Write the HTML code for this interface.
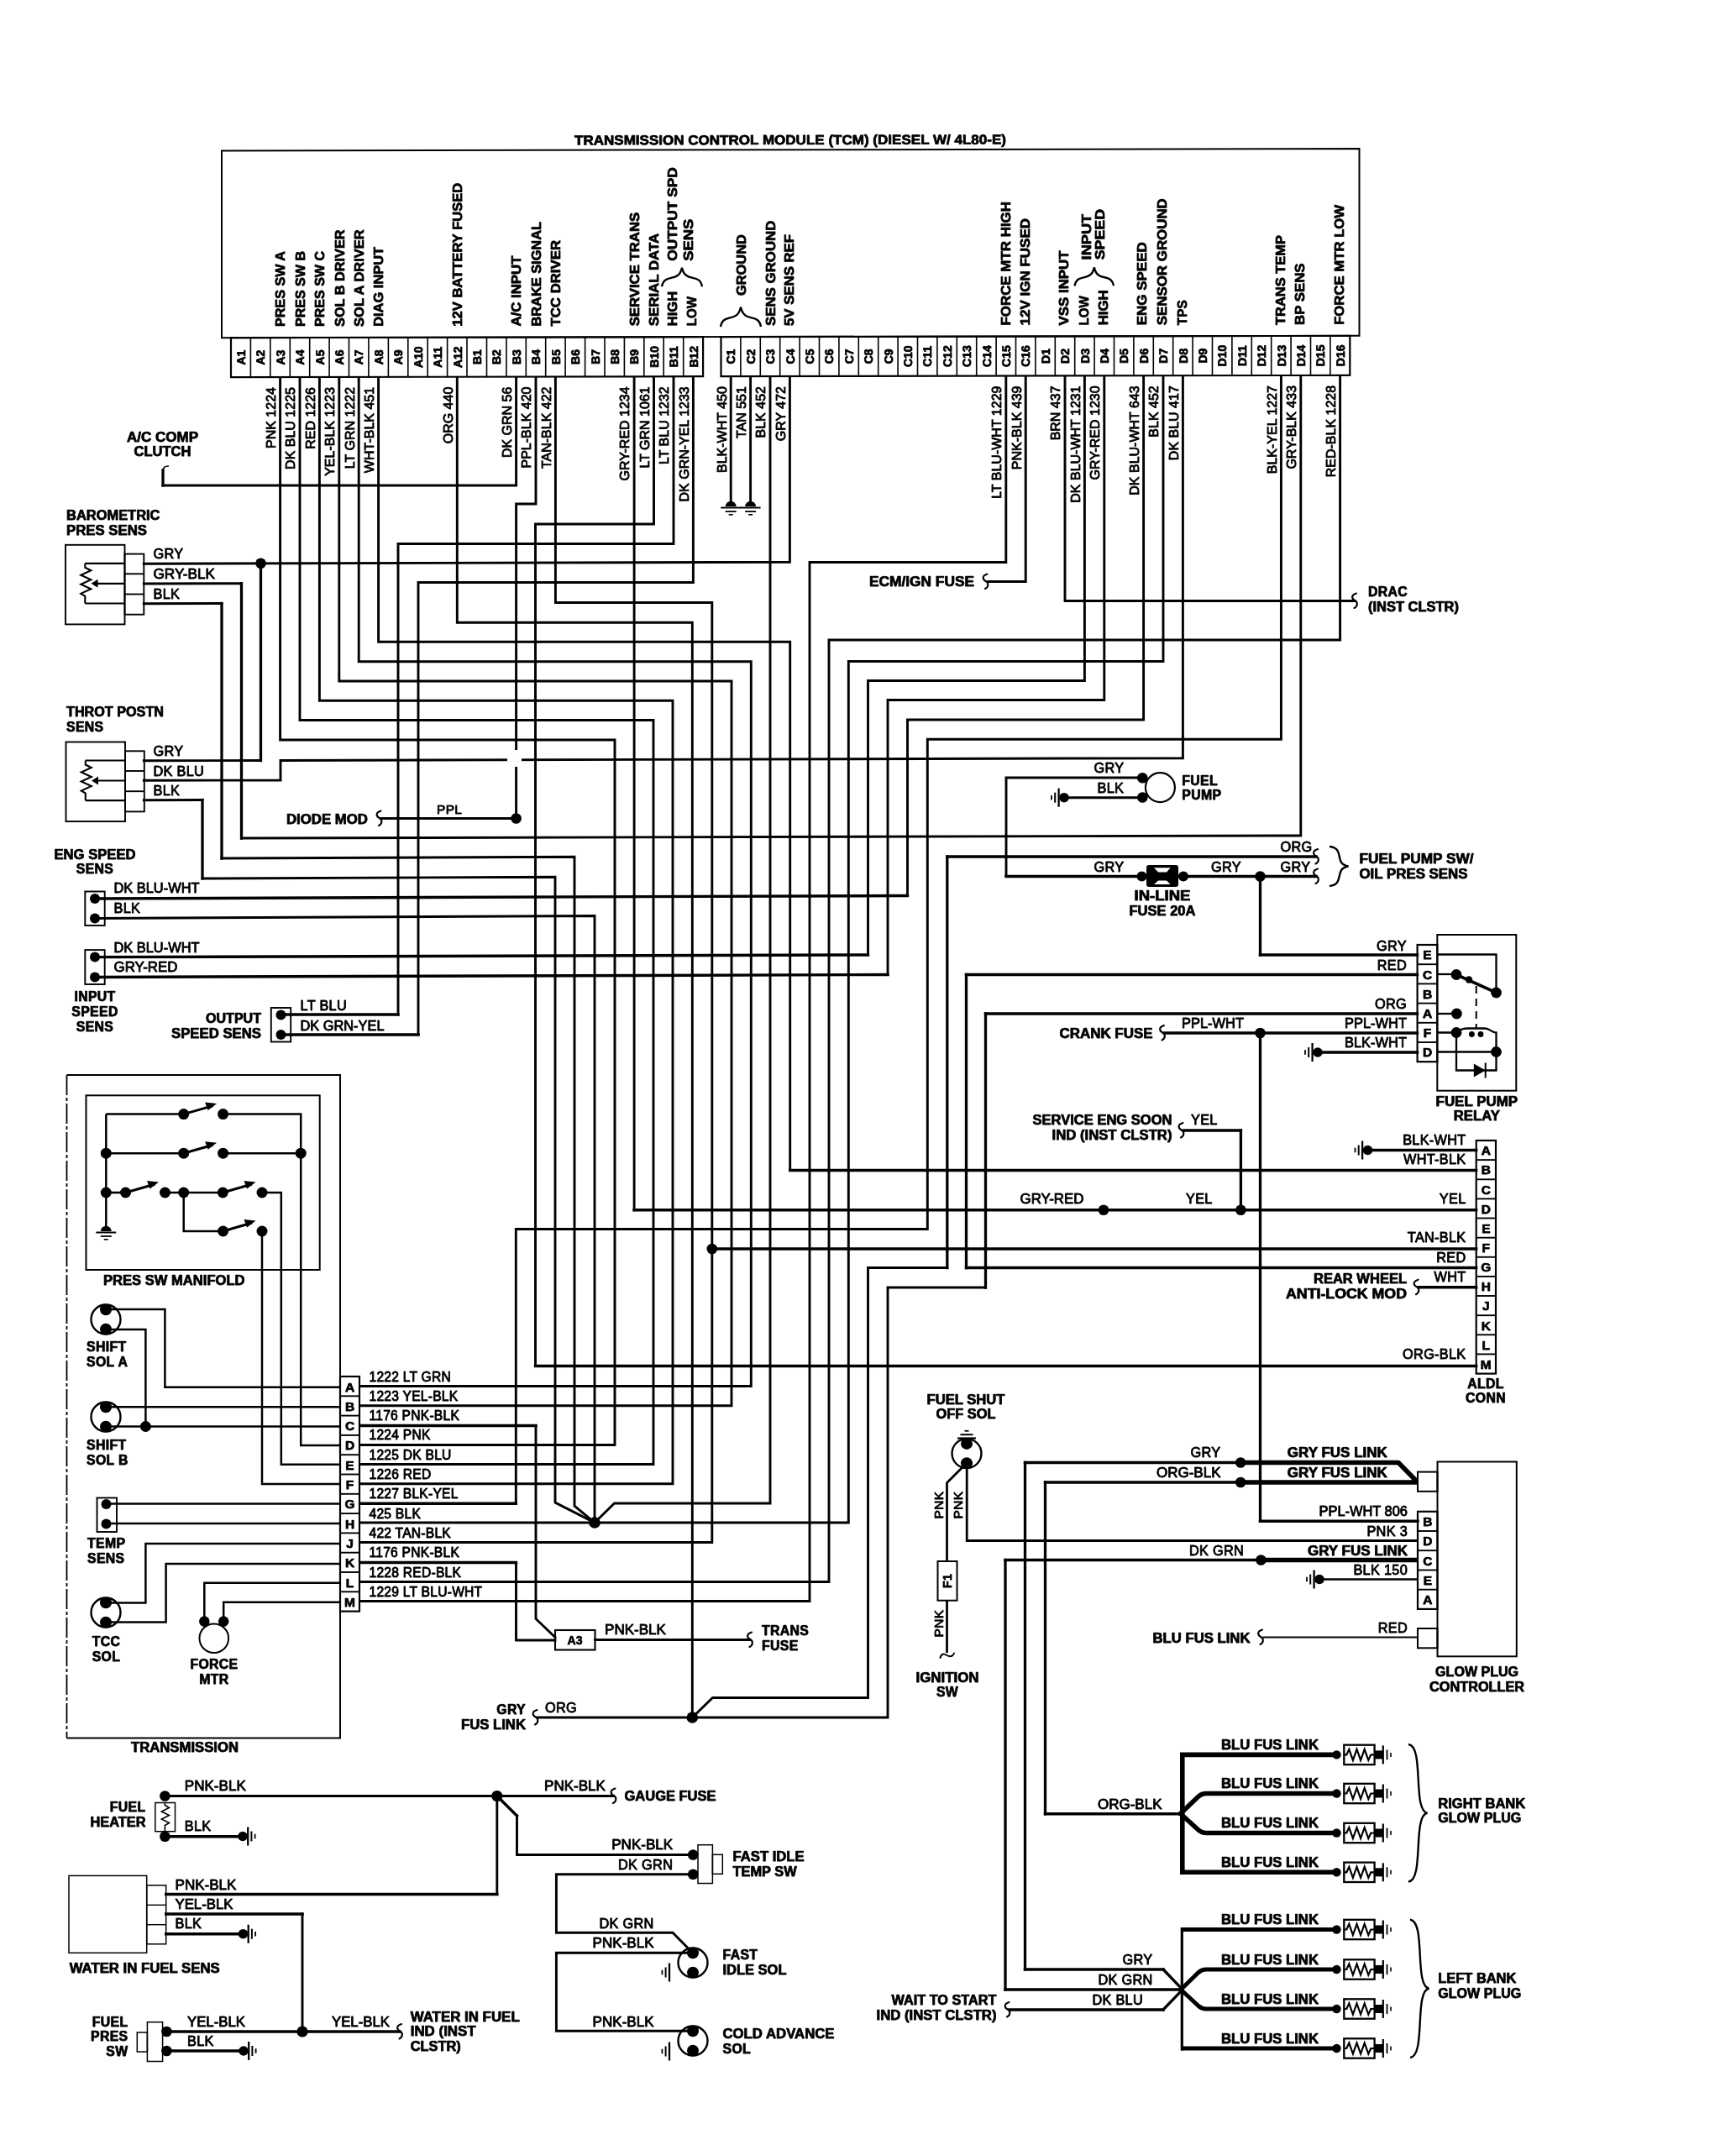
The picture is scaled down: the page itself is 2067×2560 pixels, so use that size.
<!DOCTYPE html>
<html><head><meta charset="utf-8"><title>TCM wiring diagram</title>
<style>html,body{margin:0;padding:0;background:#fff}svg{display:block;will-change:transform}text{font-family:"Liberation Sans",sans-serif;fill:#000;stroke:#000;stroke-width:0.85px;stroke-linejoin:round}text[font-weight=bold]{stroke-width:0.75px}</style>
</head><body>
<svg width="2067" height="2560" viewBox="0 0 2067 2560" fill="none" stroke="#000" stroke-linecap="butt" stroke-linejoin="miter">
<rect x="0" y="0" width="2067" height="2560" fill="#fff" stroke="none"/>
<g transform="translate(0 1.65) skewY(-0.1)">
<rect x="264.0" y="178.3" width="1354.5" height="222.7" stroke-width="2.00" fill="none"/>
<text x="684.0" y="172.0" font-size="16.0" font-weight="bold" textLength="514.0" lengthAdjust="spacingAndGlyphs">TRANSMISSION CONTROL MODULE (TCM) (DIESEL W/ 4L80-E)</text>
<rect x="275.0" y="401.0" width="562.1" height="47.0" stroke-width="2.20" fill="none"/>
<path d="M298.4 401.0 L298.4 448.0" stroke-width="1.60" />
<path d="M321.8 401.0 L321.8 448.0" stroke-width="1.60" />
<path d="M345.3 401.0 L345.3 448.0" stroke-width="1.60" />
<path d="M368.7 401.0 L368.7 448.0" stroke-width="1.60" />
<path d="M392.1 401.0 L392.1 448.0" stroke-width="1.60" />
<path d="M415.5 401.0 L415.5 448.0" stroke-width="1.60" />
<path d="M438.9 401.0 L438.9 448.0" stroke-width="1.60" />
<path d="M462.4 401.0 L462.4 448.0" stroke-width="1.60" />
<path d="M485.8 401.0 L485.8 448.0" stroke-width="1.60" />
<path d="M509.2 401.0 L509.2 448.0" stroke-width="1.60" />
<path d="M532.6 401.0 L532.6 448.0" stroke-width="1.60" />
<path d="M556.0 401.0 L556.0 448.0" stroke-width="1.60" />
<path d="M579.5 401.0 L579.5 448.0" stroke-width="1.60" />
<path d="M602.9 401.0 L602.9 448.0" stroke-width="1.60" />
<path d="M626.3 401.0 L626.3 448.0" stroke-width="1.60" />
<path d="M649.7 401.0 L649.7 448.0" stroke-width="1.60" />
<path d="M673.1 401.0 L673.1 448.0" stroke-width="1.60" />
<path d="M696.6 401.0 L696.6 448.0" stroke-width="1.60" />
<path d="M720.0 401.0 L720.0 448.0" stroke-width="1.60" />
<path d="M743.4 401.0 L743.4 448.0" stroke-width="1.60" />
<path d="M766.8 401.0 L766.8 448.0" stroke-width="1.60" />
<path d="M790.2 401.0 L790.2 448.0" stroke-width="1.60" />
<path d="M813.7 401.0 L813.7 448.0" stroke-width="1.60" />
<rect x="858.5" y="401.0" width="748.8" height="47.0" stroke-width="2.20" fill="none"/>
<path d="M881.9 401.0 L881.9 448.0" stroke-width="1.60" />
<path d="M905.3 401.0 L905.3 448.0" stroke-width="1.60" />
<path d="M928.7 401.0 L928.7 448.0" stroke-width="1.60" />
<path d="M952.1 401.0 L952.1 448.0" stroke-width="1.60" />
<path d="M975.5 401.0 L975.5 448.0" stroke-width="1.60" />
<path d="M998.9 401.0 L998.9 448.0" stroke-width="1.60" />
<path d="M1022.3 401.0 L1022.3 448.0" stroke-width="1.60" />
<path d="M1045.7 401.0 L1045.7 448.0" stroke-width="1.60" />
<path d="M1069.1 401.0 L1069.1 448.0" stroke-width="1.60" />
<path d="M1092.5 401.0 L1092.5 448.0" stroke-width="1.60" />
<path d="M1115.9 401.0 L1115.9 448.0" stroke-width="1.60" />
<path d="M1139.3 401.0 L1139.3 448.0" stroke-width="1.60" />
<path d="M1162.7 401.0 L1162.7 448.0" stroke-width="1.60" />
<path d="M1186.1 401.0 L1186.1 448.0" stroke-width="1.60" />
<path d="M1209.5 401.0 L1209.5 448.0" stroke-width="1.60" />
<path d="M1232.9 401.0 L1232.9 448.0" stroke-width="1.60" />
<path d="M1256.3 401.0 L1256.3 448.0" stroke-width="1.60" />
<path d="M1279.7 401.0 L1279.7 448.0" stroke-width="1.60" />
<path d="M1303.1 401.0 L1303.1 448.0" stroke-width="1.60" />
<path d="M1326.5 401.0 L1326.5 448.0" stroke-width="1.60" />
<path d="M1349.9 401.0 L1349.9 448.0" stroke-width="1.60" />
<path d="M1373.3 401.0 L1373.3 448.0" stroke-width="1.60" />
<path d="M1396.7 401.0 L1396.7 448.0" stroke-width="1.60" />
<path d="M1420.1 401.0 L1420.1 448.0" stroke-width="1.60" />
<path d="M1443.5 401.0 L1443.5 448.0" stroke-width="1.60" />
<path d="M1466.9 401.0 L1466.9 448.0" stroke-width="1.60" />
<path d="M1490.3 401.0 L1490.3 448.0" stroke-width="1.60" />
<path d="M1513.7 401.0 L1513.7 448.0" stroke-width="1.60" />
<path d="M1537.1 401.0 L1537.1 448.0" stroke-width="1.60" />
<path d="M1560.5 401.0 L1560.5 448.0" stroke-width="1.60" />
<path d="M1583.9 401.0 L1583.9 448.0" stroke-width="1.60" />
<text font-size="14.0" text-anchor="middle" font-weight="bold" transform="translate(291.9 424.5) rotate(-90)">A1</text>
<text font-size="14.0" text-anchor="middle" font-weight="bold" transform="translate(315.3 424.5) rotate(-90)">A2</text>
<text font-size="14.0" text-anchor="middle" font-weight="bold" transform="translate(338.8 424.5) rotate(-90)">A3</text>
<text font-size="14.0" text-anchor="middle" font-weight="bold" transform="translate(362.2 424.5) rotate(-90)">A4</text>
<text font-size="14.0" text-anchor="middle" font-weight="bold" transform="translate(385.6 424.5) rotate(-90)">A5</text>
<text font-size="14.0" text-anchor="middle" font-weight="bold" transform="translate(409.0 424.5) rotate(-90)">A6</text>
<text font-size="14.0" text-anchor="middle" font-weight="bold" transform="translate(432.4 424.5) rotate(-90)">A7</text>
<text font-size="14.0" text-anchor="middle" font-weight="bold" transform="translate(455.8 424.5) rotate(-90)">A8</text>
<text font-size="14.0" text-anchor="middle" font-weight="bold" transform="translate(479.3 424.5) rotate(-90)">A9</text>
<text font-size="14.0" text-anchor="middle" font-weight="bold" transform="translate(502.7 424.5) rotate(-90)">A10</text>
<text font-size="14.0" text-anchor="middle" font-weight="bold" transform="translate(526.1 424.5) rotate(-90)">A11</text>
<text font-size="14.0" text-anchor="middle" font-weight="bold" transform="translate(549.5 424.5) rotate(-90)">A12</text>
<text font-size="14.0" text-anchor="middle" font-weight="bold" transform="translate(573.0 424.5) rotate(-90)">B1</text>
<text font-size="14.0" text-anchor="middle" font-weight="bold" transform="translate(596.4 424.5) rotate(-90)">B2</text>
<text font-size="14.0" text-anchor="middle" font-weight="bold" transform="translate(619.8 424.5) rotate(-90)">B3</text>
<text font-size="14.0" text-anchor="middle" font-weight="bold" transform="translate(643.2 424.5) rotate(-90)">B4</text>
<text font-size="14.0" text-anchor="middle" font-weight="bold" transform="translate(666.6 424.5) rotate(-90)">B5</text>
<text font-size="14.0" text-anchor="middle" font-weight="bold" transform="translate(690.1 424.5) rotate(-90)">B6</text>
<text font-size="14.0" text-anchor="middle" font-weight="bold" transform="translate(713.5 424.5) rotate(-90)">B7</text>
<text font-size="14.0" text-anchor="middle" font-weight="bold" transform="translate(736.9 424.5) rotate(-90)">B8</text>
<text font-size="14.0" text-anchor="middle" font-weight="bold" transform="translate(760.3 424.5) rotate(-90)">B9</text>
<text font-size="14.0" text-anchor="middle" font-weight="bold" transform="translate(783.7 424.5) rotate(-90)">B10</text>
<text font-size="14.0" text-anchor="middle" font-weight="bold" transform="translate(807.2 424.5) rotate(-90)">B11</text>
<text font-size="14.0" text-anchor="middle" font-weight="bold" transform="translate(830.6 424.5) rotate(-90)">B12</text>
<text font-size="14.0" text-anchor="middle" font-weight="bold" transform="translate(875.4 424.5) rotate(-90)">C1</text>
<text font-size="14.0" text-anchor="middle" font-weight="bold" transform="translate(898.8 424.5) rotate(-90)">C2</text>
<text font-size="14.0" text-anchor="middle" font-weight="bold" transform="translate(922.2 424.5) rotate(-90)">C3</text>
<text font-size="14.0" text-anchor="middle" font-weight="bold" transform="translate(945.6 424.5) rotate(-90)">C4</text>
<text font-size="14.0" text-anchor="middle" font-weight="bold" transform="translate(969.0 424.5) rotate(-90)">C5</text>
<text font-size="14.0" text-anchor="middle" font-weight="bold" transform="translate(992.4 424.5) rotate(-90)">C6</text>
<text font-size="14.0" text-anchor="middle" font-weight="bold" transform="translate(1015.8 424.5) rotate(-90)">C7</text>
<text font-size="14.0" text-anchor="middle" font-weight="bold" transform="translate(1039.2 424.5) rotate(-90)">C8</text>
<text font-size="14.0" text-anchor="middle" font-weight="bold" transform="translate(1062.6 424.5) rotate(-90)">C9</text>
<text font-size="14.0" text-anchor="middle" font-weight="bold" transform="translate(1086.0 424.5) rotate(-90)">C10</text>
<text font-size="14.0" text-anchor="middle" font-weight="bold" transform="translate(1109.4 424.5) rotate(-90)">C11</text>
<text font-size="14.0" text-anchor="middle" font-weight="bold" transform="translate(1132.8 424.5) rotate(-90)">C12</text>
<text font-size="14.0" text-anchor="middle" font-weight="bold" transform="translate(1156.2 424.5) rotate(-90)">C13</text>
<text font-size="14.0" text-anchor="middle" font-weight="bold" transform="translate(1179.6 424.5) rotate(-90)">C14</text>
<text font-size="14.0" text-anchor="middle" font-weight="bold" transform="translate(1203.0 424.5) rotate(-90)">C15</text>
<text font-size="14.0" text-anchor="middle" font-weight="bold" transform="translate(1226.4 424.5) rotate(-90)">C16</text>
<text font-size="14.0" text-anchor="middle" font-weight="bold" transform="translate(1249.8 424.5) rotate(-90)">D1</text>
<text font-size="14.0" text-anchor="middle" font-weight="bold" transform="translate(1273.2 424.5) rotate(-90)">D2</text>
<text font-size="14.0" text-anchor="middle" font-weight="bold" transform="translate(1296.6 424.5) rotate(-90)">D3</text>
<text font-size="14.0" text-anchor="middle" font-weight="bold" transform="translate(1320.0 424.5) rotate(-90)">D4</text>
<text font-size="14.0" text-anchor="middle" font-weight="bold" transform="translate(1343.4 424.5) rotate(-90)">D5</text>
<text font-size="14.0" text-anchor="middle" font-weight="bold" transform="translate(1366.8 424.5) rotate(-90)">D6</text>
<text font-size="14.0" text-anchor="middle" font-weight="bold" transform="translate(1390.2 424.5) rotate(-90)">D7</text>
<text font-size="14.0" text-anchor="middle" font-weight="bold" transform="translate(1413.6 424.5) rotate(-90)">D8</text>
<text font-size="14.0" text-anchor="middle" font-weight="bold" transform="translate(1437.0 424.5) rotate(-90)">D9</text>
<text font-size="14.0" text-anchor="middle" font-weight="bold" transform="translate(1460.4 424.5) rotate(-90)">D10</text>
<text font-size="14.0" text-anchor="middle" font-weight="bold" transform="translate(1483.8 424.5) rotate(-90)">D11</text>
<text font-size="14.0" text-anchor="middle" font-weight="bold" transform="translate(1507.2 424.5) rotate(-90)">D12</text>
<text font-size="14.0" text-anchor="middle" font-weight="bold" transform="translate(1530.6 424.5) rotate(-90)">D13</text>
<text font-size="14.0" text-anchor="middle" font-weight="bold" transform="translate(1554.0 424.5) rotate(-90)">D14</text>
<text font-size="14.0" text-anchor="middle" font-weight="bold" transform="translate(1577.4 424.5) rotate(-90)">D15</text>
<text font-size="14.0" text-anchor="middle" font-weight="bold" transform="translate(1600.8 424.5) rotate(-90)">D16</text>
<text font-size="16.0" font-weight="bold" textLength="90.0" lengthAdjust="spacingAndGlyphs" transform="translate(339.4 388.0) rotate(-90)">PRES SW A</text>
<text font-size="16.0" font-weight="bold" textLength="90.0" lengthAdjust="spacingAndGlyphs" transform="translate(362.8 388.0) rotate(-90)">PRES SW B</text>
<text font-size="16.0" font-weight="bold" textLength="90.0" lengthAdjust="spacingAndGlyphs" transform="translate(386.2 388.0) rotate(-90)">PRES SW C</text>
<text font-size="16.0" font-weight="bold" textLength="115.5" lengthAdjust="spacingAndGlyphs" transform="translate(409.6 388.0) rotate(-90)">SOL B DRIVER</text>
<text font-size="16.0" font-weight="bold" textLength="115.5" lengthAdjust="spacingAndGlyphs" transform="translate(433.0 388.0) rotate(-90)">SOL A DRIVER</text>
<text font-size="16.0" font-weight="bold" textLength="95.0" lengthAdjust="spacingAndGlyphs" transform="translate(456.4 388.0) rotate(-90)">DIAG INPUT</text>
<text font-size="16.0" font-weight="bold" textLength="171.0" lengthAdjust="spacingAndGlyphs" transform="translate(550.1 388.0) rotate(-90)">12V BATTERY FUSED</text>
<text font-size="16.0" font-weight="bold" textLength="84.0" lengthAdjust="spacingAndGlyphs" transform="translate(620.4 388.0) rotate(-90)">A/C INPUT</text>
<text font-size="16.0" font-weight="bold" textLength="124.5" lengthAdjust="spacingAndGlyphs" transform="translate(643.8 388.0) rotate(-90)">BRAKE SIGNAL</text>
<text font-size="16.0" font-weight="bold" textLength="102.5" lengthAdjust="spacingAndGlyphs" transform="translate(667.2 388.0) rotate(-90)">TCC DRIVER</text>
<text font-size="16.0" font-weight="bold" textLength="135.5" lengthAdjust="spacingAndGlyphs" transform="translate(760.9 388.0) rotate(-90)">SERVICE TRANS</text>
<text font-size="16.0" font-weight="bold" textLength="110.5" lengthAdjust="spacingAndGlyphs" transform="translate(784.3 388.0) rotate(-90)">SERIAL DATA</text>
<text font-size="16.0" font-weight="bold" textLength="41.5" lengthAdjust="spacingAndGlyphs" transform="translate(805.8 388.0) rotate(-90)">HIGH</text>
<text font-size="16.0" font-weight="bold" textLength="35.0" lengthAdjust="spacingAndGlyphs" transform="translate(829.2 388.0) rotate(-90)">LOW</text>
<text font-size="16.0" font-weight="bold" textLength="111.5" lengthAdjust="spacingAndGlyphs" transform="translate(805.6 310.5) rotate(-90)">OUTPUT SPD</text>
<text font-size="16.0" font-weight="bold" textLength="50.0" lengthAdjust="spacingAndGlyphs" transform="translate(825.0 310.5) rotate(-90)">SENS</text>
<path d="M788.0 341.0 C791.0 324.1 808.0 337.6 812.0 318.5 C816.0 337.6 833.0 324.1 836.0 341.0" stroke-width="2.40"/>
<path d="M858.0 389.0 C861.0 371.4 878.0 385.5 882.0 365.5 C886.0 385.5 903.0 371.4 906.0 389.0" stroke-width="2.40"/>
<text font-size="16.0" font-weight="bold" textLength="73.0" lengthAdjust="spacingAndGlyphs" transform="translate(887.6 352.0) rotate(-90)">GROUND</text>
<text font-size="16.0" font-weight="bold" textLength="125.5" lengthAdjust="spacingAndGlyphs" transform="translate(922.8 388.0) rotate(-90)">SENS GROUND</text>
<text font-size="16.0" font-weight="bold" textLength="109.0" lengthAdjust="spacingAndGlyphs" transform="translate(945.2 388.0) rotate(-90)">5V SENS REF</text>
<text font-size="16.0" font-weight="bold" textLength="147.5" lengthAdjust="spacingAndGlyphs" transform="translate(1202.6 388.0) rotate(-90)">FORCE MTR HIGH</text>
<text font-size="16.0" font-weight="bold" textLength="127.5" lengthAdjust="spacingAndGlyphs" transform="translate(1226.0 388.0) rotate(-90)">12V IGN FUSED</text>
<text font-size="16.0" font-weight="bold" textLength="89.0" lengthAdjust="spacingAndGlyphs" transform="translate(1272.3 388.0) rotate(-90)">VSS INPUT</text>
<text font-size="16.0" font-weight="bold" textLength="35.0" lengthAdjust="spacingAndGlyphs" transform="translate(1295.7 388.0) rotate(-90)">LOW</text>
<text font-size="16.0" font-weight="bold" textLength="42.0" lengthAdjust="spacingAndGlyphs" transform="translate(1319.1 388.0) rotate(-90)">HIGH</text>
<path d="M1279.5 341.0 C1282.5 324.5 1298.8 337.7 1302.8 319.0 C1306.8 337.7 1323.0 324.5 1326.0 341.0" stroke-width="2.40"/>
<text font-size="16.0" font-weight="bold" textLength="54.5" lengthAdjust="spacingAndGlyphs" transform="translate(1298.5 310.0) rotate(-90)">INPUT</text>
<text font-size="16.0" font-weight="bold" textLength="60.5" lengthAdjust="spacingAndGlyphs" transform="translate(1315.3 310.0) rotate(-90)">SPEED</text>
<text font-size="16.0" font-weight="bold" textLength="99.0" lengthAdjust="spacingAndGlyphs" transform="translate(1365.4 388.0) rotate(-90)">ENG SPEED</text>
<text font-size="16.0" font-weight="bold" textLength="151.0" lengthAdjust="spacingAndGlyphs" transform="translate(1389.3 388.0) rotate(-90)">SENSOR GROUND</text>
<text font-size="16.0" font-weight="bold" textLength="30.0" lengthAdjust="spacingAndGlyphs" transform="translate(1413.2 388.0) rotate(-90)">TPS</text>
<text font-size="16.0" font-weight="bold" textLength="107.0" lengthAdjust="spacingAndGlyphs" transform="translate(1529.7 388.0) rotate(-90)">TRANS TEMP</text>
<text font-size="16.0" font-weight="bold" textLength="73.5" lengthAdjust="spacingAndGlyphs" transform="translate(1553.1 388.0) rotate(-90)">BP SENS</text>
<text font-size="16.0" font-weight="bold" textLength="143.0" lengthAdjust="spacingAndGlyphs" transform="translate(1599.9 388.0) rotate(-90)">FORCE MTR LOW</text>
<text font-size="16.0" text-anchor="end" transform="translate(327.9 460.0) rotate(-90)">PNK 1224</text>
<text font-size="16.0" text-anchor="end" transform="translate(351.3 460.0) rotate(-90)">DK BLU 1225</text>
<text font-size="16.0" text-anchor="end" transform="translate(374.7 460.0) rotate(-90)">RED 1226</text>
<text font-size="16.0" text-anchor="end" transform="translate(398.1 460.0) rotate(-90)">YEL-BLK 1223</text>
<text font-size="16.0" text-anchor="end" transform="translate(421.5 460.0) rotate(-90)">LT GRN 1222</text>
<text font-size="16.0" text-anchor="end" transform="translate(444.9 460.0) rotate(-90)">WHT-BLK 451</text>
<text font-size="16.0" text-anchor="end" transform="translate(538.6 460.0) rotate(-90)">ORG 440</text>
<text font-size="16.0" text-anchor="end" transform="translate(608.9 460.0) rotate(-90)">DK GRN 56</text>
<text font-size="16.0" text-anchor="end" transform="translate(632.3 460.0) rotate(-90)">PPL-BLK 420</text>
<text font-size="16.0" text-anchor="end" transform="translate(655.7 460.0) rotate(-90)">TAN-BLK 422</text>
<text font-size="16.0" text-anchor="end" transform="translate(749.4 460.0) rotate(-90)">GRY-RED 1234</text>
<text font-size="16.0" text-anchor="end" transform="translate(772.8 460.0) rotate(-90)">LT GRN 1061</text>
<text font-size="16.0" text-anchor="end" transform="translate(796.2 460.0) rotate(-90)">LT BLU 1232</text>
<text font-size="16.0" text-anchor="end" transform="translate(819.7 460.0) rotate(-90)">DK GRN-YEL 1233</text>
<text font-size="16.0" text-anchor="end" transform="translate(864.5 460.0) rotate(-90)">BLK-WHT 450</text>
<text font-size="16.0" text-anchor="end" transform="translate(887.9 460.0) rotate(-90)">TAN 551</text>
<text font-size="16.0" text-anchor="end" transform="translate(911.3 460.0) rotate(-90)">BLK 452</text>
<text font-size="16.0" text-anchor="end" transform="translate(934.7 460.0) rotate(-90)">GRY 472</text>
<text font-size="16.0" text-anchor="end" transform="translate(1192.1 460.0) rotate(-90)">LT BLU-WHT 1229</text>
<text font-size="16.0" text-anchor="end" transform="translate(1215.5 460.0) rotate(-90)">PNK-BLK 439</text>
<text font-size="16.0" text-anchor="end" transform="translate(1262.3 460.0) rotate(-90)">BRN 437</text>
<text font-size="16.0" text-anchor="end" transform="translate(1285.7 460.0) rotate(-90)">DK BLU-WHT 1231</text>
<text font-size="16.0" text-anchor="end" transform="translate(1309.1 460.0) rotate(-90)">GRY-RED 1230</text>
<text font-size="16.0" text-anchor="end" transform="translate(1355.9 460.0) rotate(-90)">DK BLU-WHT 643</text>
<text font-size="16.0" text-anchor="end" transform="translate(1379.3 460.0) rotate(-90)">BLK 452</text>
<text font-size="16.0" text-anchor="end" transform="translate(1402.7 460.0) rotate(-90)">DK BLU 417</text>
<text font-size="16.0" text-anchor="end" transform="translate(1519.7 460.0) rotate(-90)">BLK-YEL 1227</text>
<text font-size="16.0" text-anchor="end" transform="translate(1543.1 460.0) rotate(-90)">GRY-BLK 433</text>
<text font-size="16.0" text-anchor="end" transform="translate(1589.9 460.0) rotate(-90)">RED-BLK 1228</text>
</g>
<path d="M333.6 450.3 L333.6 881.0 L732.0 881.0 L732.0 1720.5 L428.0 1720.5" stroke-width="2.90" stroke-linecap="square" />
<path d="M357.0 450.2 L357.0 857.5 L778.0 857.5 L778.0 1743.5 L428.0 1743.5" stroke-width="2.90" stroke-linecap="square" />
<path d="M380.4 450.2 L380.4 834.3 L801.0 834.3 L801.0 1766.8 L428.0 1766.8" stroke-width="2.90" stroke-linecap="square" />
<path d="M403.8 450.1 L403.8 811.0 L871.0 811.0 L871.0 1673.7 L428.0 1673.7" stroke-width="2.90" stroke-linecap="square" />
<path d="M427.2 450.1 L427.2 787.8 L894.3 787.8 L894.3 1650.5 L428.0 1650.5" stroke-width="2.90" stroke-linecap="square" />
<path d="M450.6 450.1 L450.6 764.3 L940.7 764.3 L940.7 1393.5" stroke-width="2.90" stroke-linecap="square" />
<path d="M940.7 1393.5 L1757.7 1393.5" stroke-width="3.40" stroke-linecap="square" />
<path d="M544.3 449.9 L544.3 741.3 L824.3 741.3 L824.3 2045.0" stroke-width="2.90" stroke-linecap="square" />
<path d="M614.6 449.8 L614.6 578.0 L194.0 578.0" stroke-width="2.90" stroke-linecap="square" />
<path d="M194.0 578.0 L194.0 560.0" stroke-width="3.30" stroke-linecap="square" />
<path d="M194 561 c0 -4 2 -6.5 7 -6" stroke-width="1.6"/>
<text x="193.5" y="525.5" font-size="15.8" text-anchor="middle" font-weight="bold" textLength="85.0" lengthAdjust="spacingAndGlyphs">A/C COMP</text>
<text x="193.5" y="543.0" font-size="15.8" text-anchor="middle" font-weight="bold" textLength="68.0" lengthAdjust="spacingAndGlyphs">CLUTCH</text>
<path d="M638.0 449.7 L638.0 600.0 L614.6 600.0 L614.6 974.5" stroke-width="2.90" stroke-linecap="square" />
<path d="M454.0 974.5 L614.6 974.5" stroke-width="2.90" stroke-linecap="square" />
<circle cx="614.6" cy="974.5" r="6.3" fill="#000" stroke="none"/>
<path d="M453.5 965.5 C447.0 967.5 447.5 972.0 452.0 974.2 C455.5 976.0 455.0 981.0 451.0 983.0" stroke-width="2.10" stroke-linecap="round"/>
<path d="M661.4 449.7 L661.4 717.5 L847.8 717.5 L847.8 1836.5 L428.0 1836.5" stroke-width="2.90" stroke-linecap="square" />
<circle cx="847.8" cy="1487.0" r="6.3" fill="#000" stroke="none"/>
<path d="M847.8 1487.0 L1757.7 1487.0" stroke-width="3.40" stroke-linecap="square" />
<path d="M755.1 449.5 L755.1 1440.7" stroke-width="2.90" stroke-linecap="square" />
<path d="M755.1 1440.7 L1757.7 1440.7" stroke-width="3.40" stroke-linecap="square" />
<circle cx="1314.0" cy="1440.7" r="6.3" fill="#000" stroke="none"/>
<circle cx="1477.4" cy="1440.7" r="6.3" fill="#000" stroke="none"/>
<path d="M778.5 449.5 L778.5 624.0 L637.5 624.0 L637.5 1626.5" stroke-width="2.90" stroke-linecap="square" />
<path d="M637.5 1626.5 L1757.7 1626.5" stroke-width="3.40" stroke-linecap="square" />
<path d="M802.0 449.5 L802.0 647.5 L474.0 647.5 L474.0 1208.0" stroke-width="2.90" stroke-linecap="square" />
<path d="M474.0 1208.0 L334.0 1208.0" stroke-width="3.40" stroke-linecap="square" />
<path d="M825.4 449.4 L825.4 693.5 L498.0 693.5 L498.0 1232.0" stroke-width="2.90" stroke-linecap="square" />
<path d="M498.0 1232.0 L334.0 1232.0" stroke-width="3.40" stroke-linecap="square" />
<path d="M870.2 449.3 L870.2 600.0" stroke-width="2.90" stroke-linecap="square" />
<path d="M863.9 603.0 a6.3 6.3 0 0 1 12.6 0 z" fill="#000" stroke="none"/>
<path d="M858.2 604.5 L882.2 604.5" stroke-width="2.00" />
<path d="M863.7 609.0 L876.7 609.0" stroke-width="1.80" />
<path d="M867.7 612.8 L872.7 612.8" stroke-width="1.60" />
<path d="M893.6 449.3 L893.6 600.0" stroke-width="2.90" stroke-linecap="square" />
<path d="M887.3 603.0 a6.3 6.3 0 0 1 12.6 0 z" fill="#000" stroke="none"/>
<path d="M881.6 604.5 L905.6 604.5" stroke-width="2.00" />
<path d="M887.1 609.0 L900.1 609.0" stroke-width="1.80" />
<path d="M891.1 612.8 L896.1 612.8" stroke-width="1.60" />
<path d="M917.0 449.2 L917.0 1790.0 L731.5 1790.0 L708.0 1813.0" stroke-width="2.90" stroke-linecap="square" />
<path d="M940.4 449.2 L940.4 669.3 L171.3 671.2" stroke-width="2.90" stroke-linecap="square" />
<circle cx="310.5" cy="670.8" r="6.3" fill="#000" stroke="none"/>
<path d="M310.5 670.8 L310.5 905.5" stroke-width="3.30" stroke-linecap="square" />
<path d="M310.5 905.5 L171.3 905.8" stroke-width="2.90" stroke-linecap="square" />
<path d="M1197.8 448.8 L1197.8 669.5 L964.0 669.5 L964.0 1906.5 L428.0 1906.5" stroke-width="2.90" stroke-linecap="square" />
<path d="M1221.2 448.7 L1221.2 692.5 L1176.0 692.5" stroke-width="2.90" stroke-linecap="square" />
<path d="M1175.5 683.5 C1169.0 685.5 1169.5 690.0 1174.0 692.2 C1177.5 694.0 1177.0 699.0 1173.0 701.0" stroke-width="2.10" stroke-linecap="round"/>
<path d="M1268.0 448.6 L1268.0 715.5 L1613.0 715.5" stroke-width="2.90" stroke-linecap="square" />
<path d="M1615.0 706.5 C1608.5 708.5 1609.0 713.0 1613.5 715.2 C1617.0 717.0 1616.5 722.0 1612.5 724.0" stroke-width="2.10" stroke-linecap="round"/>
<path d="M1291.4 448.6 L1291.4 810.5 L1033.5 810.5 L1033.5 1137.0" stroke-width="2.90" stroke-linecap="square" />
<path d="M1033.5 1137.0 L113.0 1139.6" stroke-width="3.40" stroke-linecap="square" />
<path d="M1314.8 448.6 L1314.8 833.5 L1057.0 833.5 L1057.0 1160.5" stroke-width="2.90" stroke-linecap="square" />
<path d="M1057.0 1160.5 L113.0 1163.5" stroke-width="3.40" stroke-linecap="square" />
<path d="M1361.6 448.5 L1361.6 857.0 L1080.5 857.0 L1080.5 1066.5" stroke-width="2.90" stroke-linecap="square" />
<path d="M1080.5 1066.5 L113.0 1070.0" stroke-width="3.40" stroke-linecap="square" />
<path d="M1385.0 448.4 L1385.0 787.5 L1010.3 787.5 L1010.3 1813.0 L428.0 1813.0" stroke-width="2.90" stroke-linecap="square" />
<path d="M1408.4 448.4 L1408.4 902.7 L334.0 905.5 L334.0 929.0 L171.3 929.3" stroke-width="2.90" stroke-linecap="square" />
<path d="M1525.4 448.2 L1525.4 880.3 L1104.3 880.3 L1104.3 1463.5 L614.3 1463.5 L614.3 1790.3" stroke-width="2.90" stroke-linecap="square" />
<path d="M614.3 1790.3 L428.0 1790.3" stroke-width="3.40" stroke-linecap="square" />
<path d="M1548.8 448.1 L1548.8 995.0 L287.5 998.0" stroke-width="2.90" stroke-linecap="square" />
<path d="M287.5 998.0 L287.5 694.7" stroke-width="3.30" stroke-linecap="square" />
<path d="M287.5 694.7 L171.3 695.0" stroke-width="2.90" stroke-linecap="square" />
<path d="M1595.6 448.1 L1595.6 762.0 L987.0 762.0 L987.0 1883.5 L428.0 1883.5" stroke-width="2.90" stroke-linecap="square" />
<path d="M171.3 718.7 L264.0 718.5" stroke-width="2.90" stroke-linecap="square" />
<path d="M264.0 718.5 L264.0 1022.0" stroke-width="3.30" stroke-linecap="square" />
<path d="M264.0 1022.0 L684.0 1020.3 L684.0 1793.0 L708.0 1813.0" stroke-width="2.90" stroke-linecap="square" />
<path d="M171.3 952.7 L241.0 952.5" stroke-width="2.90" stroke-linecap="square" />
<path d="M241.0 952.5 L241.0 1046.0" stroke-width="3.30" stroke-linecap="square" />
<path d="M241.0 1046.0 L661.0 1044.3 L661.0 1789.0 L708.0 1813.0" stroke-width="2.90" stroke-linecap="square" />
<path d="M113.0 1093.5 L708.0 1090.5 L708.0 1813.0" stroke-width="2.90" stroke-linecap="square" />
<circle cx="708.0" cy="1813.0" r="6.8" fill="#000" stroke="none"/>
<path d="M604 904.8 H621 M614.6 893 V913" stroke="#fff" stroke-width="4"/>
<path d="M1567.0 1020.0 L1127.8 1020.0" stroke-width="3.40" stroke-linecap="square" />
<path d="M1127.8 1020.0 L1127.8 1509.5" stroke-width="3.30" stroke-linecap="square" />
<path d="M1127.8 1509.5 L1033.5 1509.5 L1033.5 2021.5 L848.5 2021.5 L824.3 2045.0" stroke-width="2.90" stroke-linecap="square" />
<path d="M1569.0 1011.0 C1562.5 1013.0 1563.0 1017.5 1567.5 1019.7 C1571.0 1021.5 1570.5 1026.5 1566.5 1028.5" stroke-width="2.10" stroke-linecap="round"/>
<path d="M1687.5 1207.0 L1173.5 1207.0" stroke-width="3.40" stroke-linecap="square" />
<path d="M1173.5 1207.0 L1173.5 1533.0" stroke-width="3.30" stroke-linecap="square" />
<path d="M1173.5 1533.0 L1057.0 1533.0 L1057.0 2045.0 L640.0 2045.0" stroke-width="2.90" stroke-linecap="square" />
<path d="M639.5 2036.0 C633.0 2038.0 633.5 2042.5 638.0 2044.7 C641.5 2046.5 641.0 2051.5 637.0 2053.5" stroke-width="2.10" stroke-linecap="round"/>
<circle cx="824.3" cy="2045.0" r="6.8" fill="#000" stroke="none"/>
<path d="M1687.5 1160.5 L1150.5 1160.5" stroke-width="3.40" stroke-linecap="square" />
<path d="M1150.5 1160.5 L1150.5 1509.5" stroke-width="3.30" stroke-linecap="square" />
<path d="M1150.5 1509.5 L1757.7 1509.5" stroke-width="3.40" stroke-linecap="square" />
<path d="M1360.0 926.0 L1198.0 926.0 L1198.0 1043.5" stroke-width="2.90" stroke-linecap="square" />
<path d="M1198.0 1043.5 L1567.0 1043.5" stroke-width="3.40" stroke-linecap="square" />
<path d="M1569.0 1034.5 C1562.5 1036.5 1563.0 1041.0 1567.5 1043.2 C1571.0 1045.0 1570.5 1050.0 1566.5 1052.0" stroke-width="2.10" stroke-linecap="round"/>
<path d="M1269.0 949.7 L1360.0 949.7" stroke-width="2.90" stroke-linecap="square" />
<circle cx="1267.0" cy="949.7" r="5.8" fill="#000" stroke="none"/>
<path d="M1260.6 938.7 L1260.6 960.7" stroke-width="2.30" />
<path d="M1256.2 943.7 L1256.2 955.7" stroke-width="2.00" />
<path d="M1252.0 946.9 L1252.0 952.5" stroke-width="1.80" />
<circle cx="1381.4" cy="937.7" r="17.5" fill="none" stroke-width="2.20"/>
<circle cx="1360.3" cy="926.3" r="6.3" fill="#000" stroke="none"/>
<circle cx="1360.3" cy="949.5" r="6.3" fill="#000" stroke="none"/>
<circle cx="1500.5" cy="1043.5" r="6.3" fill="#000" stroke="none"/>
<path d="M1500.5 1043.5 L1500.5 1137.0" stroke-width="3.30" stroke-linecap="square" />
<path d="M1500.5 1137.0 L1687.5 1137.0" stroke-width="3.40" stroke-linecap="square" />
<circle cx="1359.5" cy="1043.5" r="6.0" fill="#000" stroke="none"/>
<circle cx="1409.0" cy="1043.5" r="6.0" fill="#000" stroke="none"/>
<rect x="1365" y="1030" width="38" height="26" rx="3" fill="#000" stroke="none"/>
<path d="M1374 1033.3 H1393.6 L1389 1038.6 H1379.2 z M1374 1053 H1393.6 L1389 1048.4 H1379.2 z" fill="#fff" stroke="none"/>
<path d="M1386.5 1230.0 L1687.5 1230.0" stroke-width="3.40" stroke-linecap="square" />
<path d="M1386.0 1221.0 C1379.5 1223.0 1380.0 1227.5 1384.5 1229.7 C1388.0 1231.5 1387.5 1236.5 1383.5 1238.5" stroke-width="2.10" stroke-linecap="round"/>
<circle cx="1500.5" cy="1230.0" r="6.3" fill="#000" stroke="none"/>
<path d="M1500.5 1230.0 L1500.5 1811.3" stroke-width="3.30" stroke-linecap="square" />
<path d="M1500.5 1811.3 L1688.0 1811.3" stroke-width="3.40" stroke-linecap="square" />
<path d="M1571.0 1253.0 L1687.5 1253.0" stroke-width="3.40" stroke-linecap="square" />
<circle cx="1569.0" cy="1253.0" r="5.8" fill="#000" stroke="none"/>
<path d="M1562.6 1242.0 L1562.6 1264.0" stroke-width="2.30" />
<path d="M1558.2 1247.0 L1558.2 1259.0" stroke-width="2.00" />
<path d="M1554.0 1250.2 L1554.0 1255.8" stroke-width="1.80" />
<path d="M1409.0 1346.0 L1477.4 1346.0" stroke-width="3.40" stroke-linecap="square" />
<path d="M1477.4 1346.0 L1477.4 1440.7" stroke-width="3.30" stroke-linecap="square" />
<path d="M1408.5 1337.0 C1402.0 1339.0 1402.5 1343.5 1407.0 1345.7 C1410.5 1347.5 1410.0 1352.5 1406.0 1354.5" stroke-width="2.10" stroke-linecap="round"/>
<path d="M1630.5 1369.5 L1757.7 1369.5" stroke-width="3.40" stroke-linecap="square" />
<circle cx="1628.5" cy="1369.5" r="5.8" fill="#000" stroke="none"/>
<path d="M1622.1 1358.5 L1622.1 1380.5" stroke-width="2.30" />
<path d="M1617.7 1363.5 L1617.7 1375.5" stroke-width="2.00" />
<path d="M1613.5 1366.7 L1613.5 1372.3" stroke-width="1.80" />
<path d="M1689.0 1532.7 L1757.7 1532.7" stroke-width="3.40" stroke-linecap="square" />
<path d="M1688.5 1523.7 C1682.0 1525.7 1682.5 1530.2 1687.0 1532.4 C1690.5 1534.2 1690.0 1539.2 1686.0 1541.2" stroke-width="2.10" stroke-linecap="round"/>
<path d="M428.0 1697.5 L638.0 1697.5" stroke-width="3.40" stroke-linecap="square" />
<path d="M638.0 1697.5 L638.0 1927.5 L661.0 1949.5" stroke-width="2.90" stroke-linecap="square" />
<path d="M428.0 1860.5 L614.5 1860.5" stroke-width="3.40" stroke-linecap="square" />
<path d="M614.5 1860.5 L614.5 1953.0 L661.0 1953.0" stroke-width="2.90" stroke-linecap="square" />
<rect x="661.0" y="1941.0" width="47.5" height="23.5" stroke-width="2.10" fill="none"/>
<text x="684.7" y="1958.3" font-size="14.0" text-anchor="middle" font-weight="bold" letter-spacing="0.35">A3</text>
<path d="M708.5 1952.5 L893.0 1952.5" stroke-width="2.90" stroke-linecap="square" />
<path d="M895.0 1943.5 C888.5 1945.5 889.0 1950.0 893.5 1952.2 C897.0 1954.0 896.5 1959.0 892.5 1961.0" stroke-width="2.10" stroke-linecap="round"/>
<rect x="78.0" y="648.8" width="70.5" height="94.6" stroke-width="1.90" fill="none"/>
<rect x="148.5" y="659.6" width="22.8" height="72.1" stroke-width="1.90" fill="none"/>
<path d="M148.5 683.3 L171.3 683.3" stroke-width="1.90" />
<path d="M148.5 707.5 L171.3 707.5" stroke-width="1.90" />
<path d="M101.3 670.8 L148.5 670.8" stroke-width="2.20" />
<path d="M116.0 694.8 L148.5 694.8" stroke-width="2.20" />
<path d="M101.3 718.5 L148.5 718.5" stroke-width="2.20" />
<path d="M101.3 670.8 V675.8 l7 3.5 l-12 5.5 l12 5.5 l-12 5.5 l12 5.5 l-12 5.5 l5 3 V718.5" stroke-width="2.1" stroke-linejoin="miter"/>
<path d="M108.5 694.8 l8 -5 v10 z" fill="#000" stroke="none"/>
<rect x="78.5" y="883.5" width="70.5" height="94.6" stroke-width="1.90" fill="none"/>
<rect x="149.0" y="894.3" width="22.8" height="72.1" stroke-width="1.90" fill="none"/>
<path d="M149.0 918.0 L171.8 918.0" stroke-width="1.90" />
<path d="M149.0 942.2 L171.8 942.2" stroke-width="1.90" />
<path d="M101.8 905.5 L149.0 905.5" stroke-width="2.20" />
<path d="M116.5 929.5 L149.0 929.5" stroke-width="2.20" />
<path d="M101.8 953.2 L149.0 953.2" stroke-width="2.20" />
<path d="M101.8 905.5 V910.5 l7 3.5 l-12 5.5 l12 5.5 l-12 5.5 l12 5.5 l-12 5.5 l5 3 V953.2" stroke-width="2.1" stroke-linejoin="miter"/>
<path d="M109.0 929.5 l8 -5 v10 z" fill="#000" stroke="none"/>
<text x="79.0" y="619.0" font-size="15.8" font-weight="bold" textLength="111.5" lengthAdjust="spacingAndGlyphs">BAROMETRIC</text>
<text x="79.0" y="636.5" font-size="15.8" font-weight="bold" textLength="96.0" lengthAdjust="spacingAndGlyphs">PRES SENS</text>
<text x="182.5" y="665.3" font-size="16.3" letter-spacing="0.30">GRY</text>
<text x="182.5" y="689.0" font-size="16.3" textLength="73.5" lengthAdjust="spacingAndGlyphs">GRY-BLK</text>
<text x="182.5" y="713.0" font-size="16.3" letter-spacing="0.30">BLK</text>
<text x="79.0" y="853.0" font-size="15.8" font-weight="bold" textLength="116.0" lengthAdjust="spacingAndGlyphs">THROT POSTN</text>
<text x="79.0" y="870.5" font-size="15.8" font-weight="bold" letter-spacing="0.35">SENS</text>
<text x="182.5" y="900.0" font-size="16.3" letter-spacing="0.30">GRY</text>
<text x="182.5" y="923.5" font-size="16.3" letter-spacing="0.30">DK BLU</text>
<text x="182.5" y="947.0" font-size="16.3" letter-spacing="0.30">BLK</text>
<text x="341.0" y="981.0" font-size="15.8" font-weight="bold" textLength="97.0" lengthAdjust="spacingAndGlyphs">DIODE MOD</text>
<text x="520.0" y="968.5" font-size="15.5" letter-spacing="0.30">PPL</text>
<rect x="101.3" y="1061.5" width="23.4" height="40.5" stroke-width="1.90" fill="none"/>
<circle cx="113.0" cy="1070.0" r="6.0" fill="#000" stroke="none"/>
<circle cx="113.0" cy="1093.5" r="6.0" fill="#000" stroke="none"/>
<rect x="101.3" y="1131.1" width="23.4" height="40.9" stroke-width="1.90" fill="none"/>
<circle cx="113.0" cy="1139.6" r="6.0" fill="#000" stroke="none"/>
<circle cx="113.0" cy="1163.5" r="6.0" fill="#000" stroke="none"/>
<rect x="322.8" y="1200.0" width="23.4" height="40.5" stroke-width="1.90" fill="none"/>
<circle cx="334.5" cy="1208.5" r="6.0" fill="#000" stroke="none"/>
<circle cx="334.5" cy="1232.0" r="6.0" fill="#000" stroke="none"/>
<text x="113.0" y="1022.5" font-size="15.8" text-anchor="middle" font-weight="bold" textLength="97.0" lengthAdjust="spacingAndGlyphs">ENG SPEED</text>
<text x="113.0" y="1040.0" font-size="15.8" text-anchor="middle" font-weight="bold" letter-spacing="0.35">SENS</text>
<text x="135.5" y="1063.0" font-size="16.3" textLength="102.0" lengthAdjust="spacingAndGlyphs">DK BLU-WHT</text>
<text x="135.5" y="1087.0" font-size="16.3" letter-spacing="0.30">BLK</text>
<text x="135.5" y="1133.5" font-size="16.3" textLength="102.0" lengthAdjust="spacingAndGlyphs">DK BLU-WHT</text>
<text x="135.5" y="1157.0" font-size="16.3" textLength="76.0" lengthAdjust="spacingAndGlyphs">GRY-RED</text>
<text x="113.0" y="1192.0" font-size="15.8" text-anchor="middle" font-weight="bold" letter-spacing="0.35">INPUT</text>
<text x="113.0" y="1210.0" font-size="15.8" text-anchor="middle" font-weight="bold" letter-spacing="0.35">SPEED</text>
<text x="113.0" y="1227.5" font-size="15.8" text-anchor="middle" font-weight="bold" letter-spacing="0.35">SENS</text>
<text x="311.0" y="1217.5" font-size="15.8" text-anchor="end" font-weight="bold" textLength="66.0" lengthAdjust="spacingAndGlyphs">OUTPUT</text>
<text x="311.0" y="1236.0" font-size="15.8" text-anchor="end" font-weight="bold" textLength="107.0" lengthAdjust="spacingAndGlyphs">SPEED SENS</text>
<text x="357.5" y="1203.0" font-size="16.3" letter-spacing="0.30">LT BLU</text>
<text x="357.5" y="1226.5" font-size="16.3" textLength="100.0" lengthAdjust="spacingAndGlyphs">DK GRN-YEL</text>
<path d="M79.5 1280 H405 V2069.5 H79.5" stroke-width="2.0"/>
<path d="M79.5 1280 V2069.5" stroke-width="1.8" stroke-dasharray="24 3 4 3"/>
<rect x="102.5" y="1304.3" width="278.2" height="207.7" stroke-width="2.00" fill="none"/>
<path d="M126.3 1326.6 L126.3 1466.0" stroke-width="2.50" />
<path d="M126.3 1326.6 L218.7 1326.6" stroke-width="2.50" />
<circle cx="218.7" cy="1326.6" r="6.5" fill="#000" stroke="none"/>
<circle cx="265.6" cy="1326.6" r="6.5" fill="#000" stroke="none"/>
<path d="M218.7 1326.6 L253.6 1316.6" stroke-width="3.00" />
<path d="M258.1 1314.1 l-14 -1.5 l3.5 9.5 z" fill="#000" stroke="none"/>
<path d="M265.6 1326.6 L358.2 1326.6 L358.2 1721.0 L405.0 1721.0" stroke-width="2.50" />
<path d="M126.3 1373.2 L218.7 1373.2" stroke-width="2.50" />
<circle cx="218.7" cy="1373.2" r="6.5" fill="#000" stroke="none"/>
<circle cx="265.6" cy="1373.2" r="6.5" fill="#000" stroke="none"/>
<path d="M218.7 1373.2 L253.6 1363.2" stroke-width="3.00" />
<path d="M258.1 1360.7 l-14 -1.5 l3.5 9.5 z" fill="#000" stroke="none"/>
<path d="M265.6 1373.2 L358.2 1373.2" stroke-width="2.50" />
<circle cx="126.3" cy="1373.2" r="6.5" fill="#000" stroke="none"/>
<circle cx="358.2" cy="1373.2" r="6.5" fill="#000" stroke="none"/>
<circle cx="126.3" cy="1420.0" r="6.5" fill="#000" stroke="none"/>
<path d="M126.3 1420.0 L149.5 1420.0" stroke-width="2.60" />
<circle cx="149.5" cy="1420.0" r="6.5" fill="#000" stroke="none"/>
<circle cx="196.5" cy="1420.0" r="6.5" fill="#000" stroke="none"/>
<path d="M149.5 1420.0 L184.5 1410.0" stroke-width="3.00" />
<path d="M189.0 1407.5 l-14 -1.5 l3.5 9.5 z" fill="#000" stroke="none"/>
<path d="M196.5 1420.0 L265.3 1420.0" stroke-width="2.50" />
<circle cx="218.7" cy="1420.0" r="6.5" fill="#000" stroke="none"/>
<circle cx="265.3" cy="1420.0" r="6.5" fill="#000" stroke="none"/>
<circle cx="312.0" cy="1420.0" r="6.5" fill="#000" stroke="none"/>
<path d="M265.3 1420.0 L300.0 1410.0" stroke-width="3.00" />
<path d="M304.5 1407.5 l-14 -1.5 l3.5 9.5 z" fill="#000" stroke="none"/>
<path d="M312.0 1420.0 L334.8 1420.0 L334.8 1743.7 L405.0 1743.7" stroke-width="2.50" />
<path d="M218.7 1420.0 L218.7 1466.0 L265.6 1466.0" stroke-width="2.50" />
<circle cx="265.6" cy="1466.0" r="6.5" fill="#000" stroke="none"/>
<circle cx="312.0" cy="1466.0" r="6.5" fill="#000" stroke="none"/>
<path d="M265.6 1466.0 L300.0 1456.0" stroke-width="3.00" />
<path d="M304.5 1453.5 l-14 -1.5 l3.5 9.5 z" fill="#000" stroke="none"/>
<path d="M312.0 1466.0 L312.0 1767.0 L405.0 1767.0" stroke-width="2.50" />
<path d="M120.0 1466.0 a6.3 6.3 0 0 1 12.6 0 z" fill="#000" stroke="none"/>
<path d="M114.3 1467.5 L138.3 1467.5" stroke-width="2.00" />
<path d="M119.8 1472.0 L132.8 1472.0" stroke-width="1.80" />
<path d="M123.8 1475.8 L128.8 1475.8" stroke-width="1.60" />
<text x="123.0" y="1529.7" font-size="15.8" font-weight="bold" textLength="168.5" lengthAdjust="spacingAndGlyphs">PRES SW MANIFOLD</text>
<clipPath id="c126_1571"><circle cx="126.0" cy="1571.0" r="18.5"/></clipPath>
<circle cx="126.0" cy="1571.0" r="17.5" fill="none" stroke-width="2.40"/>
<g clip-path="url(#c126_1571)"><circle cx="126.0" cy="1559.3" r="7" fill="#000" stroke="none"/><circle cx="126.0" cy="1582.7" r="7" fill="#000" stroke="none"/></g>
<clipPath id="c126_1687"><circle cx="126.0" cy="1687.0" r="18.5"/></clipPath>
<circle cx="126.0" cy="1687.0" r="17.5" fill="none" stroke-width="2.40"/>
<g clip-path="url(#c126_1687)"><circle cx="126.0" cy="1675.3" r="7" fill="#000" stroke="none"/><circle cx="126.0" cy="1698.7" r="7" fill="#000" stroke="none"/></g>
<clipPath id="c126_1920"><circle cx="126.0" cy="1920.0" r="18.5"/></clipPath>
<circle cx="126.0" cy="1920.0" r="17.5" fill="none" stroke-width="2.40"/>
<g clip-path="url(#c126_1920)"><circle cx="126.0" cy="1908.3" r="7" fill="#000" stroke="none"/><circle cx="126.0" cy="1931.7" r="7" fill="#000" stroke="none"/></g>
<path d="M126.0 1559.0 L196.4 1559.0 L196.4 1651.7 L405.0 1651.7" stroke-width="2.50" />
<path d="M126.0 1583.0 L173.4 1583.0 L173.4 1698.5" stroke-width="2.50" />
<path d="M126.0 1675.3 L405.0 1675.3" stroke-width="2.50" />
<path d="M126.0 1698.5 L405.0 1698.5" stroke-width="2.50" />
<circle cx="173.4" cy="1698.5" r="6.5" fill="#000" stroke="none"/>
<rect x="115.5" y="1783.5" width="23.5" height="40.5" stroke-width="1.90" fill="none"/>
<circle cx="126.5" cy="1791.0" r="6.0" fill="#000" stroke="none"/>
<circle cx="126.5" cy="1814.5" r="6.0" fill="#000" stroke="none"/>
<path d="M126.5 1790.5 L405.0 1790.5" stroke-width="2.50" />
<path d="M126.5 1814.0 L405.0 1814.0" stroke-width="2.50" />
<path d="M405.0 1838.0 L173.4 1838.0 L173.4 1908.5 L126.0 1908.5" stroke-width="2.50" />
<path d="M405.0 1862.0 L197.6 1862.0 L197.6 1931.5 L126.0 1931.5" stroke-width="2.50" />
<path d="M405.0 1884.7 L243.3 1884.7 L243.3 1930.6" stroke-width="2.50" />
<path d="M405.0 1907.8 L266.2 1907.8 L266.2 1930.6" stroke-width="2.50" />
<circle cx="254.8" cy="1950.8" r="17.3" fill="none" stroke-width="2.00"/>
<circle cx="243.3" cy="1930.6" r="6.3" fill="#000" stroke="none"/>
<circle cx="266.2" cy="1930.6" r="6.3" fill="#000" stroke="none"/>
<text x="103.0" y="1609.0" font-size="15.8" font-weight="bold" letter-spacing="0.35">SHIFT</text>
<text x="103.0" y="1627.0" font-size="15.8" font-weight="bold" letter-spacing="0.35">SOL A</text>
<text x="103.0" y="1726.0" font-size="15.8" font-weight="bold" letter-spacing="0.35">SHIFT</text>
<text x="103.0" y="1744.0" font-size="15.8" font-weight="bold" letter-spacing="0.35">SOL B</text>
<text x="104.0" y="1843.0" font-size="15.8" font-weight="bold" letter-spacing="0.35">TEMP</text>
<text x="104.0" y="1861.0" font-size="15.8" font-weight="bold" letter-spacing="0.35">SENS</text>
<text x="126.5" y="1960.0" font-size="15.8" text-anchor="middle" font-weight="bold" letter-spacing="0.35">TCC</text>
<text x="126.5" y="1977.5" font-size="15.8" text-anchor="middle" font-weight="bold" letter-spacing="0.35">SOL</text>
<text x="255.0" y="1987.0" font-size="15.8" text-anchor="middle" font-weight="bold" letter-spacing="0.35">FORCE</text>
<text x="255.0" y="2005.0" font-size="15.8" text-anchor="middle" font-weight="bold" letter-spacing="0.35">MTR</text>
<text x="220.0" y="2086.0" font-size="15.8" text-anchor="middle" font-weight="bold" textLength="128.0" lengthAdjust="spacingAndGlyphs">TRANSMISSION</text>
<rect x="405.0" y="1639.0" width="23.0" height="279.6" stroke-width="2.20" fill="#fff"/>
<path d="M405.0 1662.3 L428.0 1662.3" stroke-width="1.90" />
<path d="M405.0 1685.6 L428.0 1685.6" stroke-width="1.90" />
<path d="M405.0 1708.9 L428.0 1708.9" stroke-width="1.90" />
<path d="M405.0 1732.2 L428.0 1732.2" stroke-width="1.90" />
<path d="M405.0 1755.5 L428.0 1755.5" stroke-width="1.90" />
<path d="M405.0 1778.8 L428.0 1778.8" stroke-width="1.90" />
<path d="M405.0 1802.1 L428.0 1802.1" stroke-width="1.90" />
<path d="M405.0 1825.4 L428.0 1825.4" stroke-width="1.90" />
<path d="M405.0 1848.7 L428.0 1848.7" stroke-width="1.90" />
<path d="M405.0 1872.0 L428.0 1872.0" stroke-width="1.90" />
<path d="M405.0 1895.3 L428.0 1895.3" stroke-width="1.90" />
<text x="416.5" y="1656.5" font-size="15.5" text-anchor="middle" font-weight="bold">A</text>
<text x="439.5" y="1644.5" font-size="15.6" letter-spacing="0.25">1222 LT GRN</text>
<text x="416.5" y="1679.8" font-size="15.5" text-anchor="middle" font-weight="bold">B</text>
<text x="439.5" y="1667.8" font-size="15.6" letter-spacing="0.25">1223 YEL-BLK</text>
<text x="416.5" y="1703.1" font-size="15.5" text-anchor="middle" font-weight="bold">C</text>
<text x="439.5" y="1691.1" font-size="15.6" letter-spacing="0.25">1176 PNK-BLK</text>
<text x="416.5" y="1726.4" font-size="15.5" text-anchor="middle" font-weight="bold">D</text>
<text x="439.5" y="1714.4" font-size="15.6" letter-spacing="0.25">1224 PNK</text>
<text x="416.5" y="1749.7" font-size="15.5" text-anchor="middle" font-weight="bold">E</text>
<text x="439.5" y="1737.7" font-size="15.6" letter-spacing="0.25">1225 DK BLU</text>
<text x="416.5" y="1773.0" font-size="15.5" text-anchor="middle" font-weight="bold">F</text>
<text x="439.5" y="1761.0" font-size="15.6" letter-spacing="0.25">1226 RED</text>
<text x="416.5" y="1796.3" font-size="15.5" text-anchor="middle" font-weight="bold">G</text>
<text x="439.5" y="1784.3" font-size="15.6" letter-spacing="0.25">1227 BLK-YEL</text>
<text x="416.5" y="1819.6" font-size="15.5" text-anchor="middle" font-weight="bold">H</text>
<text x="439.5" y="1807.6" font-size="15.6" letter-spacing="0.25">425 BLK</text>
<text x="416.5" y="1842.9" font-size="15.5" text-anchor="middle" font-weight="bold">J</text>
<text x="439.5" y="1830.9" font-size="15.6" letter-spacing="0.25">422 TAN-BLK</text>
<text x="416.5" y="1866.2" font-size="15.5" text-anchor="middle" font-weight="bold">K</text>
<text x="439.5" y="1854.2" font-size="15.6" letter-spacing="0.25">1176 PNK-BLK</text>
<text x="416.5" y="1889.5" font-size="15.5" text-anchor="middle" font-weight="bold">L</text>
<text x="439.5" y="1877.5" font-size="15.6" letter-spacing="0.25">1228 RED-BLK</text>
<text x="416.5" y="1912.8" font-size="15.5" text-anchor="middle" font-weight="bold">M</text>
<text x="439.5" y="1900.8" font-size="15.6" letter-spacing="0.25">1229 LT BLU-WHT</text>
<text x="720.0" y="1945.5" font-size="16.3" textLength="73.0" lengthAdjust="spacingAndGlyphs">PNK-BLK</text>
<text x="907.0" y="1947.0" font-size="15.8" font-weight="bold" letter-spacing="0.35">TRANS</text>
<text x="907.0" y="1965.0" font-size="15.8" font-weight="bold" letter-spacing="0.35">FUSE</text>
<text x="626.0" y="2041.0" font-size="15.8" text-anchor="end" font-weight="bold" letter-spacing="0.35">GRY</text>
<text x="626.0" y="2059.0" font-size="15.8" text-anchor="end" font-weight="bold" textLength="77.0" lengthAdjust="spacingAndGlyphs">FUS LINK</text>
<text x="649.0" y="2038.5" font-size="16.3" letter-spacing="0.30">ORG</text>
<text x="1160.0" y="698.0" font-size="15.8" text-anchor="end" font-weight="bold" textLength="125.0" lengthAdjust="spacingAndGlyphs">ECM/IGN FUSE</text>
<text x="1629.0" y="710.0" font-size="15.8" font-weight="bold" letter-spacing="0.35">DRAC</text>
<text x="1629.0" y="728.0" font-size="15.8" font-weight="bold" textLength="108.0" lengthAdjust="spacingAndGlyphs">(INST CLSTR)</text>
<text x="1302.5" y="920.0" font-size="16.3" letter-spacing="0.30">GRY</text>
<text x="1306.5" y="943.8" font-size="16.3" letter-spacing="0.30">BLK</text>
<text x="1407.3" y="934.5" font-size="15.8" font-weight="bold" letter-spacing="0.35">FUEL</text>
<text x="1407.3" y="951.8" font-size="15.8" font-weight="bold" letter-spacing="0.35">PUMP</text>
<text x="1302.5" y="1037.8" font-size="16.3" letter-spacing="0.30">GRY</text>
<text x="1442.0" y="1037.8" font-size="16.3" letter-spacing="0.30">GRY</text>
<text x="1524.5" y="1037.8" font-size="16.3" letter-spacing="0.30">GRY</text>
<text x="1524.5" y="1013.5" font-size="16.3" letter-spacing="0.30">ORG</text>
<text x="1384.0" y="1072.3" font-size="15.8" text-anchor="middle" font-weight="bold" textLength="67.0" lengthAdjust="spacingAndGlyphs">IN-LINE</text>
<text x="1384.0" y="1090.0" font-size="15.8" text-anchor="middle" font-weight="bold" textLength="79.0" lengthAdjust="spacingAndGlyphs">FUSE 20A</text>
<path d="M1583.0 1008.0 C1602.1 1010.0 1587.5 1028.5 1605.5 1031.5 C1587.5 1034.5 1602.1 1053.0 1583.0 1055.0" stroke-width="2.40"/>
<text x="1618.5" y="1027.8" font-size="15.8" font-weight="bold" textLength="136.0" lengthAdjust="spacingAndGlyphs">FUEL PUMP SW/</text>
<text x="1618.5" y="1046.0" font-size="15.8" font-weight="bold" textLength="129.0" lengthAdjust="spacingAndGlyphs">OIL PRES SENS</text>
<rect x="1711.3" y="1113.0" width="94.0" height="185.7" stroke-width="2.00" fill="none"/>
<rect x="1687.6" y="1125.0" width="23.7" height="139.2" stroke-width="2.20" fill="none"/>
<path d="M1687.6 1148.2 L1711.3 1148.2" stroke-width="1.90" />
<path d="M1687.6 1171.4 L1711.3 1171.4" stroke-width="1.90" />
<path d="M1687.6 1194.6 L1711.3 1194.6" stroke-width="1.90" />
<path d="M1687.6 1217.8 L1711.3 1217.8" stroke-width="1.90" />
<path d="M1687.6 1241.0 L1711.3 1241.0" stroke-width="1.90" />
<text x="1699.5" y="1142.3" font-size="15.5" text-anchor="middle" font-weight="bold">E</text>
<text x="1699.5" y="1165.5" font-size="15.5" text-anchor="middle" font-weight="bold">C</text>
<text x="1699.5" y="1188.7" font-size="15.5" text-anchor="middle" font-weight="bold">B</text>
<text x="1699.5" y="1211.9" font-size="15.5" text-anchor="middle" font-weight="bold">A</text>
<text x="1699.5" y="1235.1" font-size="15.5" text-anchor="middle" font-weight="bold">F</text>
<text x="1699.5" y="1258.3" font-size="15.5" text-anchor="middle" font-weight="bold">D</text>
<path d="M1711.3 1136.5 L1781.5 1136.5 L1781.5 1181.5" stroke-width="2.30" />
<path d="M1711.3 1160.0 L1734.0 1160.0" stroke-width="2.30" />
<circle cx="1734.0" cy="1160.5" r="6.4" fill="#000" stroke="none"/>
<circle cx="1781.5" cy="1182.0" r="6.4" fill="#000" stroke="none"/>
<path d="M1734.0 1160.5 L1781.5 1182.0" stroke-width="3.60" />
<circle cx="1749.0" cy="1166.5" r="4.2" fill="#000" stroke="none"/>
<path d="M1711.3 1207.0 L1734.0 1207.0" stroke-width="2.30" />
<circle cx="1734.4" cy="1207.0" r="6.4" fill="#000" stroke="none"/>
<path d="M1757.7 1174.0 L1757.7 1225.0" stroke-width="2.00" stroke-dasharray="9 6"/>
<circle cx="1734.0" cy="1229.5" r="6.4" fill="#000" stroke="none"/>
<path d="M1711.3 1229.5 H1734 C1740 1224 1745 1224.5 1750 1224.5 H1768 C1774 1224.5 1775 1229 1781.5 1229.5 V1274.5 H1734 V1229.5" stroke-width="2.3"/>
<circle cx="1752.4" cy="1231.5" r="3.4" fill="#000" stroke="none"/>
<circle cx="1763.0" cy="1231.5" r="3.4" fill="#000" stroke="none"/>
<path d="M1711.3 1252.5 L1781.5 1252.5" stroke-width="2.30" />
<circle cx="1781.5" cy="1252.5" r="6.4" fill="#000" stroke="none"/>
<path d="M1754.8 1266.5 L1768.7 1274.5 L1754.8 1282.5 z" fill="#000" stroke="none"/>
<path d="M1768.7 1265.5 L1768.7 1283.5" stroke-width="2.00" />
<text x="1758.3" y="1317.0" font-size="15.8" text-anchor="middle" font-weight="bold" textLength="97.5" lengthAdjust="spacingAndGlyphs">FUEL PUMP</text>
<text x="1758.3" y="1333.8" font-size="15.8" text-anchor="middle" font-weight="bold" textLength="55.0" lengthAdjust="spacingAndGlyphs">RELAY</text>
<text x="1675.0" y="1131.5" font-size="16.3" text-anchor="end" letter-spacing="0.30">GRY</text>
<text x="1675.0" y="1154.5" font-size="16.3" text-anchor="end" letter-spacing="0.30">RED</text>
<text x="1675.0" y="1201.0" font-size="16.3" text-anchor="end" letter-spacing="0.30">ORG</text>
<text x="1675.0" y="1224.0" font-size="16.3" text-anchor="end" textLength="74.0" lengthAdjust="spacingAndGlyphs">PPL-WHT</text>
<text x="1675.0" y="1247.0" font-size="16.3" text-anchor="end" textLength="74.0" lengthAdjust="spacingAndGlyphs">BLK-WHT</text>
<text x="1407.0" y="1224.0" font-size="16.3" textLength="74.0" lengthAdjust="spacingAndGlyphs">PPL-WHT</text>
<text x="1372.5" y="1235.5" font-size="15.8" text-anchor="end" font-weight="bold" textLength="111.0" lengthAdjust="spacingAndGlyphs">CRANK FUSE</text>
<text x="1395.5" y="1338.8" font-size="15.8" text-anchor="end" font-weight="bold" textLength="166.0" lengthAdjust="spacingAndGlyphs">SERVICE ENG SOON</text>
<text x="1395.5" y="1357.0" font-size="15.8" text-anchor="end" font-weight="bold" textLength="143.0" lengthAdjust="spacingAndGlyphs">IND (INST CLSTR)</text>
<text x="1418.0" y="1338.8" font-size="16.3" letter-spacing="0.30">YEL</text>
<rect x="1757.7" y="1358.0" width="23.3" height="277.6" stroke-width="2.20" fill="none"/>
<path d="M1757.7 1381.1 L1781.0 1381.1" stroke-width="1.90" />
<path d="M1757.7 1404.3 L1781.0 1404.3" stroke-width="1.90" />
<path d="M1757.7 1427.4 L1781.0 1427.4" stroke-width="1.90" />
<path d="M1757.7 1450.5 L1781.0 1450.5" stroke-width="1.90" />
<path d="M1757.7 1473.7 L1781.0 1473.7" stroke-width="1.90" />
<path d="M1757.7 1496.8 L1781.0 1496.8" stroke-width="1.90" />
<path d="M1757.7 1519.9 L1781.0 1519.9" stroke-width="1.90" />
<path d="M1757.7 1543.0 L1781.0 1543.0" stroke-width="1.90" />
<path d="M1757.7 1566.2 L1781.0 1566.2" stroke-width="1.90" />
<path d="M1757.7 1589.3 L1781.0 1589.3" stroke-width="1.90" />
<path d="M1757.7 1612.4 L1781.0 1612.4" stroke-width="1.90" />
<text x="1769.3" y="1375.3" font-size="15.5" text-anchor="middle" font-weight="bold">A</text>
<text x="1769.3" y="1398.4" font-size="15.5" text-anchor="middle" font-weight="bold">B</text>
<text x="1769.3" y="1421.6" font-size="15.5" text-anchor="middle" font-weight="bold">C</text>
<text x="1769.3" y="1444.7" font-size="15.5" text-anchor="middle" font-weight="bold">D</text>
<text x="1769.3" y="1467.8" font-size="15.5" text-anchor="middle" font-weight="bold">E</text>
<text x="1769.3" y="1491.0" font-size="15.5" text-anchor="middle" font-weight="bold">F</text>
<text x="1769.3" y="1514.1" font-size="15.5" text-anchor="middle" font-weight="bold">G</text>
<text x="1769.3" y="1537.2" font-size="15.5" text-anchor="middle" font-weight="bold">H</text>
<text x="1769.3" y="1560.3" font-size="15.5" text-anchor="middle" font-weight="bold">J</text>
<text x="1769.3" y="1583.5" font-size="15.5" text-anchor="middle" font-weight="bold">K</text>
<text x="1769.3" y="1606.6" font-size="15.5" text-anchor="middle" font-weight="bold">L</text>
<text x="1769.3" y="1629.7" font-size="15.5" text-anchor="middle" font-weight="bold">M</text>
<text x="1745.5" y="1363.0" font-size="16.3" text-anchor="end" letter-spacing="0.30">BLK-WHT</text>
<text x="1745.5" y="1385.7" font-size="16.3" text-anchor="end" letter-spacing="0.30">WHT-BLK</text>
<text x="1745.5" y="1432.7" font-size="16.3" text-anchor="end" letter-spacing="0.30">YEL</text>
<text x="1745.5" y="1479.3" font-size="16.3" text-anchor="end" letter-spacing="0.30">TAN-BLK</text>
<text x="1745.5" y="1502.5" font-size="16.3" text-anchor="end" letter-spacing="0.30">RED</text>
<text x="1745.5" y="1525.5" font-size="16.3" text-anchor="end" letter-spacing="0.30">WHT</text>
<text x="1745.5" y="1618.3" font-size="16.3" text-anchor="end" letter-spacing="0.30">ORG-BLK</text>
<text x="1412.0" y="1432.7" font-size="16.3" letter-spacing="0.30">YEL</text>
<text x="1214.5" y="1432.7" font-size="16.3" textLength="76.0" lengthAdjust="spacingAndGlyphs">GRY-RED</text>
<text x="1675.0" y="1528.0" font-size="15.8" text-anchor="end" font-weight="bold" textLength="111.0" lengthAdjust="spacingAndGlyphs">REAR WHEEL</text>
<text x="1675.0" y="1545.7" font-size="15.8" text-anchor="end" font-weight="bold" textLength="144.0" lengthAdjust="spacingAndGlyphs">ANTI-LOCK MOD</text>
<text x="1769.0" y="1652.5" font-size="15.8" text-anchor="middle" font-weight="bold" letter-spacing="0.35">ALDL</text>
<text x="1769.0" y="1670.0" font-size="15.8" text-anchor="middle" font-weight="bold" letter-spacing="0.35">CONN</text>
<text x="1150.0" y="1672.0" font-size="15.8" text-anchor="middle" font-weight="bold" textLength="93.0" lengthAdjust="spacingAndGlyphs">FUEL SHUT</text>
<text x="1150.0" y="1689.3" font-size="15.8" text-anchor="middle" font-weight="bold" textLength="71.0" lengthAdjust="spacingAndGlyphs">OFF SOL</text>
<clipPath id="c1151_1730"><circle cx="1151.0" cy="1730.6" r="18.5"/></clipPath>
<circle cx="1151.0" cy="1730.6" r="17.5" fill="none" stroke-width="2.40"/>
<g clip-path="url(#c1151_1730)"><circle cx="1151.0" cy="1718.9" r="7" fill="#000" stroke="none"/><circle cx="1151.0" cy="1742.3" r="7" fill="#000" stroke="none"/></g>
<path d="M1140.0 1712.5 L1162.0 1712.5" stroke-width="2.20" />
<path d="M1143.5 1708.2 L1158.5 1708.2" stroke-width="2.00" />
<path d="M1148.5 1703.8 L1153.5 1703.8" stroke-width="1.80" />
<path d="M1151.0 1742.0 L1127.5 1765.5 L1127.5 1859.0" stroke-width="2.80" />
<rect x="1116.5" y="1859.0" width="23.0" height="46.7" stroke-width="2.00" fill="none"/>
<text font-size="14.0" text-anchor="middle" font-weight="bold" letter-spacing="0.35" transform="translate(1133.0 1882.5) rotate(-90)">F1</text>
<path d="M1127.5 1905.7 L1127.5 1968.0" stroke-width="2.80" />
<path d="M1119.5 1974 c1 -5 4 -5.5 8 -3 c3.5 2.2 7 1.5 8.5 -2.5" stroke-width="2.0" stroke-linecap="round"/>
<path d="M1151.2 1742.0 L1151.2 1834.5 L1688.0 1834.5" stroke-width="2.80" />
<text font-size="15.5" text-anchor="middle" letter-spacing="0.30" transform="translate(1122.5 1792.0) rotate(-90)">PNK</text>
<text font-size="15.5" text-anchor="middle" letter-spacing="0.30" transform="translate(1146.0 1792.0) rotate(-90)">PNK</text>
<text font-size="15.5" text-anchor="middle" letter-spacing="0.30" transform="translate(1122.5 1933.0) rotate(-90)">PNK</text>
<text x="1128.0" y="2002.8" font-size="15.8" text-anchor="middle" font-weight="bold" textLength="75.0" lengthAdjust="spacingAndGlyphs">IGNITION</text>
<text x="1128.0" y="2020.0" font-size="15.8" text-anchor="middle" font-weight="bold" letter-spacing="0.35">SW</text>
<rect x="1711.5" y="1740.5" width="94.3" height="231.8" stroke-width="2.00" fill="none"/>
<rect x="1688.0" y="1752.6" width="23.5" height="23.2" stroke-width="2.00" fill="none"/>
<rect x="1688.0" y="1799.8" width="23.5" height="116.1" stroke-width="2.20" fill="none"/>
<path d="M1688.0 1823.0 L1711.5 1823.0" stroke-width="1.90" />
<path d="M1688.0 1846.2 L1711.5 1846.2" stroke-width="1.90" />
<path d="M1688.0 1869.5 L1711.5 1869.5" stroke-width="1.90" />
<path d="M1688.0 1892.7 L1711.5 1892.7" stroke-width="1.90" />
<text x="1699.8" y="1817.1" font-size="15.5" text-anchor="middle" font-weight="bold">B</text>
<text x="1699.8" y="1840.3" font-size="15.5" text-anchor="middle" font-weight="bold">D</text>
<text x="1699.8" y="1863.5" font-size="15.5" text-anchor="middle" font-weight="bold">C</text>
<text x="1699.8" y="1886.8" font-size="15.5" text-anchor="middle" font-weight="bold">E</text>
<text x="1699.8" y="1910.0" font-size="15.5" text-anchor="middle" font-weight="bold">A</text>
<rect x="1688.0" y="1939.0" width="23.5" height="23.3" stroke-width="2.00" fill="none"/>
<path d="M1477.0 1741.5 L1220.5 1741.5" stroke-width="3.40" stroke-linecap="square" />
<path d="M1220.5 1741.5 L1220.5 2345.0" stroke-width="3.30" stroke-linecap="square" />
<path d="M1220.5 2345.0 L1385.0 2345.0" stroke-width="3.40" stroke-linecap="square" />
<path d="M1385.0 2345.0 L1407.0 2368.0" stroke-width="3.30" stroke-linecap="square" />
<path d="M1477.0 1765.0 L1244.5 1765.0" stroke-width="3.40" stroke-linecap="square" />
<path d="M1244.5 1765.0 L1244.5 2159.8" stroke-width="3.30" stroke-linecap="square" />
<path d="M1244.5 2159.8 L1404.0 2159.8" stroke-width="3.40" stroke-linecap="square" />
<path d="M1501.0 1857.5 L1197.0 1857.5" stroke-width="3.40" stroke-linecap="square" />
<path d="M1197.0 1857.5 L1197.0 2369.0" stroke-width="3.30" stroke-linecap="square" />
<path d="M1197.0 2369.0 L1407.0 2369.0" stroke-width="3.40" stroke-linecap="square" />
<path d="M1202.0 2393.0 L1385.0 2393.0" stroke-width="3.40" stroke-linecap="square" />
<path d="M1385.0 2393.0 L1407.0 2370.0" stroke-width="3.30" stroke-linecap="square" />
<path d="M1201.5 2384.0 C1195.0 2386.0 1195.5 2390.5 1200.0 2392.7 C1203.5 2394.5 1203.0 2399.5 1199.0 2401.5" stroke-width="2.10" stroke-linecap="round"/>
<circle cx="1477.2" cy="1741.5" r="6.3" fill="#000" stroke="none"/>
<circle cx="1477.2" cy="1765.0" r="6.3" fill="#000" stroke="none"/>
<circle cx="1501.4" cy="1857.5" r="6.3" fill="#000" stroke="none"/>
<path d="M1477 1741.5 H1665 L1687 1764" stroke-width="5.6" stroke-linejoin="round"/>
<path d="M1477 1765 H1688" stroke-width="5.6"/>
<path d="M1501 1857.5 H1688" stroke-width="5.6"/>
<path d="M1573.0 1880.5 L1688.0 1880.5" stroke-width="2.30" />
<circle cx="1571.0" cy="1880.5" r="5.8" fill="#000" stroke="none"/>
<path d="M1564.6 1869.5 L1564.6 1891.5" stroke-width="2.30" />
<path d="M1560.2 1874.5 L1560.2 1886.5" stroke-width="2.00" />
<path d="M1556.0 1877.7 L1556.0 1883.3" stroke-width="1.80" />
<path d="M1503.5 1949.5 L1688.0 1949.5" stroke-width="2.20" />
<path d="M1503.0 1940.5 C1496.5 1942.5 1497.0 1947.0 1501.5 1949.2 C1505.0 1951.0 1504.5 1956.0 1500.5 1958.0" stroke-width="2.10" stroke-linecap="round"/>
<text x="1453.5" y="1735.0" font-size="16.3" text-anchor="end" letter-spacing="0.30">GRY</text>
<text x="1453.5" y="1758.7" font-size="16.3" text-anchor="end" textLength="76.5" lengthAdjust="spacingAndGlyphs">ORG-BLK</text>
<text x="1532.8" y="1735.0" font-size="15.8" font-weight="bold" textLength="119.0" lengthAdjust="spacingAndGlyphs">GRY FUS LINK</text>
<text x="1532.8" y="1758.7" font-size="15.8" font-weight="bold" textLength="119.0" lengthAdjust="spacingAndGlyphs">GRY FUS LINK</text>
<text x="1676.0" y="1805.0" font-size="16.3" text-anchor="end" textLength="105.5" lengthAdjust="spacingAndGlyphs">PPL-WHT 806</text>
<text x="1676.0" y="1828.5" font-size="16.3" text-anchor="end" letter-spacing="0.30">PNK 3</text>
<text x="1416.0" y="1851.5" font-size="16.3" letter-spacing="0.30">DK GRN</text>
<text x="1676.0" y="1851.5" font-size="15.8" text-anchor="end" font-weight="bold" textLength="119.0" lengthAdjust="spacingAndGlyphs">GRY FUS LINK</text>
<text x="1676.0" y="1875.0" font-size="16.3" text-anchor="end" letter-spacing="0.30">BLK 150</text>
<text x="1676.0" y="1944.0" font-size="16.3" text-anchor="end" letter-spacing="0.30">RED</text>
<text x="1488.5" y="1956.3" font-size="15.8" text-anchor="end" font-weight="bold" textLength="116.0" lengthAdjust="spacingAndGlyphs">BLU FUS LINK</text>
<text x="1758.6" y="1995.8" font-size="15.8" text-anchor="middle" font-weight="bold" textLength="99.0" lengthAdjust="spacingAndGlyphs">GLOW PLUG</text>
<text x="1758.6" y="2013.5" font-size="15.8" text-anchor="middle" font-weight="bold" textLength="113.0" lengthAdjust="spacingAndGlyphs">CONTROLLER</text>
<path d="M1593 2089.4 H1407.8 V2229.3 H1593" stroke-width="5.6" stroke-linejoin="miter"/>
<path d="M1593 2135.5 H1436 Q1431 2135.5 1427 2139.0 L1405.5 2159.5 L1427 2179.0 Q1431 2182.5 1436 2182.5 H1593" stroke-width="5.6" stroke-linejoin="round"/>
<circle cx="1591.5" cy="2089.4" r="5.2" fill="#000" stroke="none"/>
<rect x="1600.3" y="2077.7" width="36.3" height="23.4" stroke-width="2.30" fill="none"/>
<path d="M1600.3 2089.4 h3 l3 -6.5 l4.6 13 l4.6 -13 l4.6 13 l4.6 -13 l4.6 13 l3 -6.5 h4.5" stroke-width="2.2"/>
<rect x="1636.6" y="2084.4" width="9.5" height="10" fill="#000" stroke="none"/>
<path d="M1646.8 2078.4 L1646.8 2100.4" stroke-width="2.20" />
<path d="M1651.5 2083.4 L1651.5 2095.4" stroke-width="1.80" />
<path d="M1656.0 2086.9 L1656.0 2091.9" stroke-width="1.60" />
<text x="1454.0" y="2083.2" font-size="15.8" font-weight="bold" textLength="116.0" lengthAdjust="spacingAndGlyphs">BLU FUS LINK</text>
<circle cx="1591.5" cy="2135.5" r="5.2" fill="#000" stroke="none"/>
<rect x="1600.3" y="2123.8" width="36.3" height="23.4" stroke-width="2.30" fill="none"/>
<path d="M1600.3 2135.5 h3 l3 -6.5 l4.6 13 l4.6 -13 l4.6 13 l4.6 -13 l4.6 13 l3 -6.5 h4.5" stroke-width="2.2"/>
<rect x="1636.6" y="2130.5" width="9.5" height="10" fill="#000" stroke="none"/>
<path d="M1646.8 2124.5 L1646.8 2146.5" stroke-width="2.20" />
<path d="M1651.5 2129.5 L1651.5 2141.5" stroke-width="1.80" />
<path d="M1656.0 2133.0 L1656.0 2138.0" stroke-width="1.60" />
<text x="1454.0" y="2129.3" font-size="15.8" font-weight="bold" textLength="116.0" lengthAdjust="spacingAndGlyphs">BLU FUS LINK</text>
<circle cx="1591.5" cy="2182.5" r="5.2" fill="#000" stroke="none"/>
<rect x="1600.3" y="2170.8" width="36.3" height="23.4" stroke-width="2.30" fill="none"/>
<path d="M1600.3 2182.5 h3 l3 -6.5 l4.6 13 l4.6 -13 l4.6 13 l4.6 -13 l4.6 13 l3 -6.5 h4.5" stroke-width="2.2"/>
<rect x="1636.6" y="2177.5" width="9.5" height="10" fill="#000" stroke="none"/>
<path d="M1646.8 2171.5 L1646.8 2193.5" stroke-width="2.20" />
<path d="M1651.5 2176.5 L1651.5 2188.5" stroke-width="1.80" />
<path d="M1656.0 2180.0 L1656.0 2185.0" stroke-width="1.60" />
<text x="1454.0" y="2176.3" font-size="15.8" font-weight="bold" textLength="116.0" lengthAdjust="spacingAndGlyphs">BLU FUS LINK</text>
<circle cx="1591.5" cy="2229.3" r="5.2" fill="#000" stroke="none"/>
<rect x="1600.3" y="2217.6" width="36.3" height="23.4" stroke-width="2.30" fill="none"/>
<path d="M1600.3 2229.3 h3 l3 -6.5 l4.6 13 l4.6 -13 l4.6 13 l4.6 -13 l4.6 13 l3 -6.5 h4.5" stroke-width="2.2"/>
<rect x="1636.6" y="2224.3" width="9.5" height="10" fill="#000" stroke="none"/>
<path d="M1646.8 2218.3 L1646.8 2240.3" stroke-width="2.20" />
<path d="M1651.5 2223.3 L1651.5 2235.3" stroke-width="1.80" />
<path d="M1656.0 2226.8 L1656.0 2231.8" stroke-width="1.60" />
<text x="1454.0" y="2223.1" font-size="15.8" font-weight="bold" textLength="116.0" lengthAdjust="spacingAndGlyphs">BLU FUS LINK</text>
<path d="M1593 2297.5 H1406 M1593 2439.0 H1406" stroke-width="5.0"/>
<path d="M1407.3 2295.0 V2441.5" stroke-width="3.2"/>
<path d="M1593 2345.0 H1436 Q1431 2345.0 1427 2348.5 L1406.0 2369.0 L1427 2388.5 Q1431 2392.0 1436 2392.0 H1593" stroke-width="5.0" stroke-linejoin="round"/>
<circle cx="1591.5" cy="2297.5" r="5.2" fill="#000" stroke="none"/>
<rect x="1600.3" y="2285.8" width="36.3" height="23.4" stroke-width="2.30" fill="none"/>
<path d="M1600.3 2297.5 h3 l3 -6.5 l4.6 13 l4.6 -13 l4.6 13 l4.6 -13 l4.6 13 l3 -6.5 h4.5" stroke-width="2.2"/>
<rect x="1636.6" y="2292.5" width="9.5" height="10" fill="#000" stroke="none"/>
<path d="M1646.8 2286.5 L1646.8 2308.5" stroke-width="2.20" />
<path d="M1651.5 2291.5 L1651.5 2303.5" stroke-width="1.80" />
<path d="M1656.0 2295.0 L1656.0 2300.0" stroke-width="1.60" />
<text x="1454.0" y="2291.3" font-size="15.8" font-weight="bold" textLength="116.0" lengthAdjust="spacingAndGlyphs">BLU FUS LINK</text>
<circle cx="1591.5" cy="2345.0" r="5.2" fill="#000" stroke="none"/>
<rect x="1600.3" y="2333.3" width="36.3" height="23.4" stroke-width="2.30" fill="none"/>
<path d="M1600.3 2345.0 h3 l3 -6.5 l4.6 13 l4.6 -13 l4.6 13 l4.6 -13 l4.6 13 l3 -6.5 h4.5" stroke-width="2.2"/>
<rect x="1636.6" y="2340.0" width="9.5" height="10" fill="#000" stroke="none"/>
<path d="M1646.8 2334.0 L1646.8 2356.0" stroke-width="2.20" />
<path d="M1651.5 2339.0 L1651.5 2351.0" stroke-width="1.80" />
<path d="M1656.0 2342.5 L1656.0 2347.5" stroke-width="1.60" />
<text x="1454.0" y="2338.8" font-size="15.8" font-weight="bold" textLength="116.0" lengthAdjust="spacingAndGlyphs">BLU FUS LINK</text>
<circle cx="1591.5" cy="2392.0" r="5.2" fill="#000" stroke="none"/>
<rect x="1600.3" y="2380.3" width="36.3" height="23.4" stroke-width="2.30" fill="none"/>
<path d="M1600.3 2392.0 h3 l3 -6.5 l4.6 13 l4.6 -13 l4.6 13 l4.6 -13 l4.6 13 l3 -6.5 h4.5" stroke-width="2.2"/>
<rect x="1636.6" y="2387.0" width="9.5" height="10" fill="#000" stroke="none"/>
<path d="M1646.8 2381.0 L1646.8 2403.0" stroke-width="2.20" />
<path d="M1651.5 2386.0 L1651.5 2398.0" stroke-width="1.80" />
<path d="M1656.0 2389.5 L1656.0 2394.5" stroke-width="1.60" />
<text x="1454.0" y="2385.8" font-size="15.8" font-weight="bold" textLength="116.0" lengthAdjust="spacingAndGlyphs">BLU FUS LINK</text>
<circle cx="1591.5" cy="2439.0" r="5.2" fill="#000" stroke="none"/>
<rect x="1600.3" y="2427.3" width="36.3" height="23.4" stroke-width="2.30" fill="none"/>
<path d="M1600.3 2439.0 h3 l3 -6.5 l4.6 13 l4.6 -13 l4.6 13 l4.6 -13 l4.6 13 l3 -6.5 h4.5" stroke-width="2.2"/>
<rect x="1636.6" y="2434.0" width="9.5" height="10" fill="#000" stroke="none"/>
<path d="M1646.8 2428.0 L1646.8 2450.0" stroke-width="2.20" />
<path d="M1651.5 2433.0 L1651.5 2445.0" stroke-width="1.80" />
<path d="M1656.0 2436.5 L1656.0 2441.5" stroke-width="1.60" />
<text x="1454.0" y="2432.8" font-size="15.8" font-weight="bold" textLength="116.0" lengthAdjust="spacingAndGlyphs">BLU FUS LINK</text>
<text x="1307.0" y="2153.8" font-size="16.3" textLength="76.5" lengthAdjust="spacingAndGlyphs">ORG-BLK</text>
<path d="M1677.0 2077.0 C1696.1 2079.0 1681.5 2155.8 1699.5 2158.8 C1681.5 2161.8 1696.1 2238.5 1677.0 2240.5" stroke-width="2.40"/>
<text x="1712.3" y="2152.7" font-size="15.8" font-weight="bold" textLength="104.0" lengthAdjust="spacingAndGlyphs">RIGHT BANK</text>
<text x="1712.3" y="2170.3" font-size="15.8" font-weight="bold" textLength="99.0" lengthAdjust="spacingAndGlyphs">GLOW PLUG</text>
<path d="M1679.0 2285.7 C1698.1 2287.7 1683.5 2364.8 1701.5 2367.8 C1683.5 2370.8 1698.1 2448.0 1679.0 2450.0" stroke-width="2.40"/>
<text x="1712.3" y="2361.2" font-size="15.8" font-weight="bold" textLength="93.0" lengthAdjust="spacingAndGlyphs">LEFT BANK</text>
<text x="1712.3" y="2379.0" font-size="15.8" font-weight="bold" textLength="99.0" lengthAdjust="spacingAndGlyphs">GLOW PLUG</text>
<text x="1372.5" y="2339.0" font-size="16.3" text-anchor="end" letter-spacing="0.30">GRY</text>
<text x="1372.5" y="2362.8" font-size="16.3" text-anchor="end" letter-spacing="0.30">DK GRN</text>
<text x="1361.0" y="2386.7" font-size="16.3" text-anchor="end" letter-spacing="0.30">DK BLU</text>
<text x="1186.5" y="2387.0" font-size="15.8" text-anchor="end" font-weight="bold" textLength="125.0" lengthAdjust="spacingAndGlyphs">WAIT TO START</text>
<text x="1186.5" y="2405.0" font-size="15.8" text-anchor="end" font-weight="bold" textLength="143.0" lengthAdjust="spacingAndGlyphs">IND (INST CLSTR)</text>
<path d="M196.4 2138.5 L730.5 2138.5" stroke-width="2.90" stroke-linecap="square" />
<path d="M732.5 2129.5 C726.0 2131.5 726.5 2136.0 731.0 2138.2 C734.5 2140.0 734.0 2145.0 730.0 2147.0" stroke-width="2.10" stroke-linecap="round"/>
<circle cx="196.4" cy="2138.5" r="6.3" fill="#000" stroke="none"/>
<circle cx="591.8" cy="2138.5" r="6.6" fill="#000" stroke="none"/>
<rect x="184.8" y="2146.5" width="23.7" height="34.2" stroke-width="1.50" fill="none"/>
<path d="M196.4 2146.5 v3 l5 3 l-9 4.5 l9 4.5 l-9 4.5 l9 4.5 l-5 3 v7" stroke-width="1.6"/>
<circle cx="196.4" cy="2186.7" r="6.3" fill="#000" stroke="none"/>
<path d="M196.4 2186.7 L287.0 2186.7" stroke-width="3.40" stroke-linecap="square" />
<circle cx="289.0" cy="2186.5" r="5.8" fill="#000" stroke="none"/>
<path d="M295.2 2175.5 L295.2 2197.5" stroke-width="2.30" />
<path d="M299.4 2180.5 L299.4 2192.5" stroke-width="2.00" />
<path d="M303.6 2183.7 L303.6 2189.3" stroke-width="1.80" />
<text x="173.5" y="2156.5" font-size="15.8" text-anchor="end" font-weight="bold" letter-spacing="0.35">FUEL</text>
<text x="173.5" y="2174.7" font-size="15.8" text-anchor="end" font-weight="bold" textLength="66.0" lengthAdjust="spacingAndGlyphs">HEATER</text>
<text x="219.8" y="2132.0" font-size="16.3" textLength="73.0" lengthAdjust="spacingAndGlyphs">PNK-BLK</text>
<text x="219.8" y="2179.5" font-size="16.3" letter-spacing="0.30">BLK</text>
<text x="648.0" y="2131.5" font-size="16.3" textLength="73.0" lengthAdjust="spacingAndGlyphs">PNK-BLK</text>
<text x="743.5" y="2144.0" font-size="15.8" font-weight="bold" textLength="109.0" lengthAdjust="spacingAndGlyphs">GAUGE FUSE</text>
<path d="M591.8 2138.5 L591.8 2255.5" stroke-width="2.90" stroke-linecap="square" />
<path d="M591.8 2255.5 L197.7 2255.5" stroke-width="3.40" stroke-linecap="square" />
<path d="M591.8 2138.5 L615.5 2162.0" stroke-width="3.40" stroke-linecap="square" />
<path d="M615.5 2162.0 L615.5 2208.5 L825.0 2208.5" stroke-width="2.90" stroke-linecap="square" />
<rect x="82.0" y="2233.4" width="92.7" height="91.9" stroke-width="1.50" fill="none"/>
<rect x="174.7" y="2244.8" width="23.0" height="70.0" stroke-width="1.50" fill="none"/>
<path d="M174.7 2268.3 L197.7 2268.3" stroke-width="1.40" />
<path d="M174.7 2291.7 L197.7 2291.7" stroke-width="1.40" />
<path d="M197.7 2279.0 L360.0 2279.0" stroke-width="3.40" stroke-linecap="square" />
<path d="M360.0 2279.0 L360.0 2419.0" stroke-width="2.90" stroke-linecap="square" />
<path d="M197.7 2302.7 L288.0 2302.7" stroke-width="3.40" stroke-linecap="square" />
<circle cx="289.5" cy="2302.7" r="5.8" fill="#000" stroke="none"/>
<path d="M295.7 2291.7 L295.7 2313.7" stroke-width="2.30" />
<path d="M299.9 2296.7 L299.9 2308.7" stroke-width="2.00" />
<path d="M304.1 2299.9 L304.1 2305.5" stroke-width="1.80" />
<text x="208.5" y="2249.5" font-size="16.3" textLength="73.0" lengthAdjust="spacingAndGlyphs">PNK-BLK</text>
<text x="208.5" y="2272.7" font-size="16.3" textLength="69.0" lengthAdjust="spacingAndGlyphs">YEL-BLK</text>
<text x="208.5" y="2296.0" font-size="16.3" letter-spacing="0.30">BLK</text>
<text x="82.7" y="2348.5" font-size="15.8" font-weight="bold" textLength="179.0" lengthAdjust="spacingAndGlyphs">WATER IN FUEL SENS</text>
<rect x="175.4" y="2407.7" width="18.2" height="46.8" stroke-width="1.50" fill="none"/>
<rect x="163.3" y="2420.0" width="12.1" height="23.0" stroke-width="1.50" fill="none"/>
<circle cx="198.4" cy="2419.0" r="6.3" fill="#000" stroke="none"/>
<circle cx="198.4" cy="2442.0" r="6.3" fill="#000" stroke="none"/>
<path d="M198.4 2419.0 L476.0 2419.0" stroke-width="3.40" stroke-linecap="square" />
<path d="M478.0 2410.0 C471.5 2412.0 472.0 2416.5 476.5 2418.7 C480.0 2420.5 479.5 2425.5 475.5 2427.5" stroke-width="2.10" stroke-linecap="round"/>
<circle cx="360.0" cy="2419.0" r="6.6" fill="#000" stroke="none"/>
<path d="M198.4 2442.0 L288.5 2442.0" stroke-width="3.40" stroke-linecap="square" />
<circle cx="290.0" cy="2442.0" r="5.8" fill="#000" stroke="none"/>
<path d="M296.2 2431.0 L296.2 2453.0" stroke-width="2.30" />
<path d="M300.4 2436.0 L300.4 2448.0" stroke-width="2.00" />
<path d="M304.6 2439.2 L304.6 2444.8" stroke-width="1.80" />
<text x="152.5" y="2413.0" font-size="15.8" text-anchor="end" font-weight="bold" letter-spacing="0.35">FUEL</text>
<text x="152.5" y="2430.3" font-size="15.8" text-anchor="end" font-weight="bold" letter-spacing="0.35">PRES</text>
<text x="152.5" y="2448.0" font-size="15.8" text-anchor="end" font-weight="bold" letter-spacing="0.35">SW</text>
<text x="223.0" y="2413.0" font-size="16.3" textLength="69.0" lengthAdjust="spacingAndGlyphs">YEL-BLK</text>
<text x="223.0" y="2436.0" font-size="16.3" letter-spacing="0.30">BLK</text>
<text x="395.0" y="2413.0" font-size="16.3" textLength="69.0" lengthAdjust="spacingAndGlyphs">YEL-BLK</text>
<text x="488.7" y="2407.0" font-size="15.8" font-weight="bold" textLength="130.0" lengthAdjust="spacingAndGlyphs">WATER IN FUEL</text>
<text x="488.7" y="2424.3" font-size="15.8" font-weight="bold" textLength="78.0" lengthAdjust="spacingAndGlyphs">IND (INST</text>
<text x="488.7" y="2442.0" font-size="15.8" font-weight="bold" textLength="60.0" lengthAdjust="spacingAndGlyphs">CLSTR)</text>
<rect x="831.0" y="2196.7" width="17.4" height="45.8" stroke-width="1.50" fill="none"/>
<rect x="848.4" y="2208.3" width="11.9" height="23.0" stroke-width="1.50" fill="none"/>
<circle cx="825.2" cy="2208.5" r="6.3" fill="#000" stroke="none"/>
<circle cx="825.2" cy="2231.8" r="6.3" fill="#000" stroke="none"/>
<path d="M825.2 2231.8 L662.4 2231.8 L662.4 2301.3 L801.0 2301.3 L821.0 2321.5" stroke-width="2.90" stroke-linecap="square" />
<path d="M825.0 2325.2 L662.4 2325.2 L662.4 2418.3 L825.0 2418.3" stroke-width="2.90" stroke-linecap="square" />
<clipPath id="c825_2337"><circle cx="825.0" cy="2337.0" r="18.5"/></clipPath>
<circle cx="825.0" cy="2337.0" r="17.5" fill="none" stroke-width="2.40"/>
<g clip-path="url(#c825_2337)"><circle cx="825.0" cy="2325.3" r="7" fill="#000" stroke="none"/><circle cx="825.0" cy="2348.7" r="7" fill="#000" stroke="none"/></g>
<clipPath id="c825_2430"><circle cx="825.0" cy="2430.0" r="18.5"/></clipPath>
<circle cx="825.0" cy="2430.0" r="17.5" fill="none" stroke-width="2.40"/>
<g clip-path="url(#c825_2430)"><circle cx="825.0" cy="2418.3" r="7" fill="#000" stroke="none"/><circle cx="825.0" cy="2441.7" r="7" fill="#000" stroke="none"/></g>
<path d="M797.0 2337.5 L797.0 2359.5" stroke-width="2.30" />
<path d="M792.6 2342.5 L792.6 2354.5" stroke-width="2.00" />
<path d="M788.4 2345.7 L788.4 2351.3" stroke-width="1.80" />
<path d="M797.0 2431.5 L797.0 2453.5" stroke-width="2.30" />
<path d="M792.6 2436.5 L792.6 2448.5" stroke-width="2.00" />
<path d="M788.4 2439.7 L788.4 2445.3" stroke-width="1.80" />
<text x="801.2" y="2202.0" font-size="16.3" text-anchor="end" textLength="73.0" lengthAdjust="spacingAndGlyphs">PNK-BLK</text>
<text x="801.2" y="2226.0" font-size="16.3" text-anchor="end" letter-spacing="0.30">DK GRN</text>
<text x="872.6" y="2216.2" font-size="15.8" font-weight="bold" textLength="85.0" lengthAdjust="spacingAndGlyphs">FAST IDLE</text>
<text x="872.6" y="2234.0" font-size="15.8" font-weight="bold" textLength="76.0" lengthAdjust="spacingAndGlyphs">TEMP SW</text>
<text x="778.6" y="2295.7" font-size="16.3" text-anchor="end" letter-spacing="0.30">DK GRN</text>
<text x="778.6" y="2319.0" font-size="16.3" text-anchor="end" textLength="73.0" lengthAdjust="spacingAndGlyphs">PNK-BLK</text>
<text x="860.5" y="2332.8" font-size="15.8" font-weight="bold" letter-spacing="0.35">FAST</text>
<text x="860.5" y="2351.0" font-size="15.8" font-weight="bold" textLength="76.0" lengthAdjust="spacingAndGlyphs">IDLE SOL</text>
<text x="778.6" y="2412.5" font-size="16.3" text-anchor="end" textLength="73.0" lengthAdjust="spacingAndGlyphs">PNK-BLK</text>
<text x="860.5" y="2426.7" font-size="15.8" font-weight="bold" textLength="133.0" lengthAdjust="spacingAndGlyphs">COLD ADVANCE</text>
<text x="860.5" y="2445.0" font-size="15.8" font-weight="bold" letter-spacing="0.35">SOL</text>
</svg>
</body></html>
